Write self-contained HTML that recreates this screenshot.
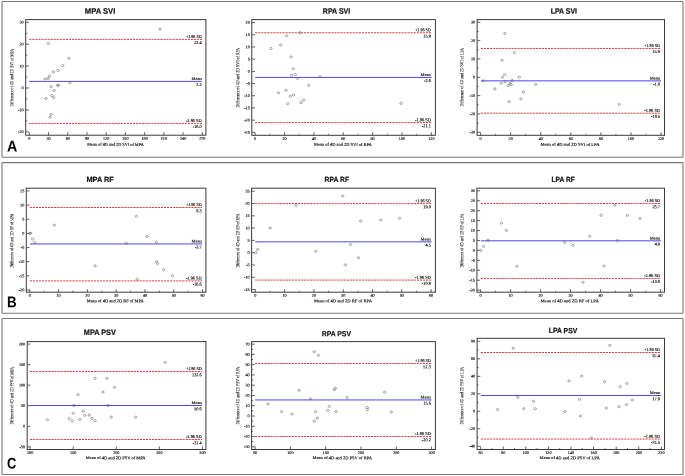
<!DOCTYPE html>
<html><head><meta charset="utf-8"><title>Bland-Altman plots</title>
<style>html,body{margin:0;padding:0;background:#fff;}svg{display:block;will-change:transform;text-rendering:geometricPrecision;}</style>
</head><body>
<svg width="685" height="476" viewBox="0 0 685 476">
<rect x="0" y="0" width="685" height="476" fill="#fff"/>
<rect x="2.0" y="1.5" width="681.0" height="155.8" rx="0.5" fill="none" stroke="#777" stroke-width="1.1"/>
<text transform="translate(7.05,151.6) rotate(0.1) scale(0.92,1)" font-size="15.5" font-family='"Liberation Sans", sans-serif' font-weight="bold" fill="#000">A</text>
<rect x="2.0" y="162.6" width="681.0" height="150.7" rx="0.5" fill="none" stroke="#777" stroke-width="1.1"/>
<text transform="translate(7.01,307.2) rotate(0.1) scale(0.86,1)" font-size="15.5" font-family='"Liberation Sans", sans-serif' font-weight="bold" fill="#000">B</text>
<rect x="2.0" y="318.5" width="681.0" height="156" rx="0.5" fill="none" stroke="#777" stroke-width="1.1"/>
<text transform="translate(7.07,468.5) rotate(0.1) scale(0.83,1)" font-size="15.5" font-family='"Liberation Sans", sans-serif' font-weight="bold" fill="#000">C</text>
<rect x="25.7" y="19.6" width="180.2" height="115.6" fill="none" stroke="#3a3a3a" stroke-width="1.0"/>
<line x1="25.7" y1="131.8" x2="28.9" y2="131.8" stroke="#3a3a3a" stroke-width="0.8"/>
<text transform="translate(23.7,133.1) rotate(0.1)" font-size="4.2" font-family='"Liberation Serif", serif' text-anchor="end" font-weight="normal" fill="#000" stroke="#000" stroke-width="0.12">-20</text>
<line x1="25.7" y1="109.9" x2="28.9" y2="109.9" stroke="#3a3a3a" stroke-width="0.8"/>
<text transform="translate(23.7,111.2) rotate(0.1)" font-size="4.2" font-family='"Liberation Serif", serif' text-anchor="end" font-weight="normal" fill="#000" stroke="#000" stroke-width="0.12">-10</text>
<line x1="25.7" y1="88" x2="28.9" y2="88" stroke="#3a3a3a" stroke-width="0.8"/>
<text transform="translate(23.7,89.3) rotate(0.1)" font-size="4.2" font-family='"Liberation Serif", serif' text-anchor="end" font-weight="normal" fill="#000" stroke="#000" stroke-width="0.12">0</text>
<line x1="25.7" y1="66.1" x2="28.9" y2="66.1" stroke="#3a3a3a" stroke-width="0.8"/>
<text transform="translate(23.7,67.4) rotate(0.1)" font-size="4.2" font-family='"Liberation Serif", serif' text-anchor="end" font-weight="normal" fill="#000" stroke="#000" stroke-width="0.12">10</text>
<line x1="25.7" y1="44.2" x2="28.9" y2="44.2" stroke="#3a3a3a" stroke-width="0.8"/>
<text transform="translate(23.7,45.5) rotate(0.1)" font-size="4.2" font-family='"Liberation Serif", serif' text-anchor="end" font-weight="normal" fill="#000" stroke="#000" stroke-width="0.12">20</text>
<line x1="25.7" y1="22.3" x2="28.9" y2="22.3" stroke="#3a3a3a" stroke-width="0.8"/>
<text transform="translate(23.7,23.6) rotate(0.1)" font-size="4.2" font-family='"Liberation Serif", serif' text-anchor="end" font-weight="normal" fill="#000" stroke="#000" stroke-width="0.12">30</text>
<line x1="25.7" y1="120.85" x2="27.3" y2="120.85" stroke="#3a3a3a" stroke-width="0.7"/>
<line x1="25.7" y1="98.95" x2="27.3" y2="98.95" stroke="#3a3a3a" stroke-width="0.7"/>
<line x1="25.7" y1="77.05" x2="27.3" y2="77.05" stroke="#3a3a3a" stroke-width="0.7"/>
<line x1="25.7" y1="55.15" x2="27.3" y2="55.15" stroke="#3a3a3a" stroke-width="0.7"/>
<line x1="25.7" y1="33.25" x2="27.3" y2="33.25" stroke="#3a3a3a" stroke-width="0.7"/>
<line x1="29.3" y1="135.2" x2="29.3" y2="132.2" stroke="#3a3a3a" stroke-width="0.8"/>
<text transform="translate(29.3,139.8) rotate(0.1)" font-size="4.2" font-family='"Liberation Serif", serif' text-anchor="middle" font-weight="normal" fill="#000" stroke="#000" stroke-width="0.12">0</text>
<line x1="48.52" y1="135.2" x2="48.52" y2="132.2" stroke="#3a3a3a" stroke-width="0.8"/>
<text transform="translate(48.52,139.8) rotate(0.1)" font-size="4.2" font-family='"Liberation Serif", serif' text-anchor="middle" font-weight="normal" fill="#000" stroke="#000" stroke-width="0.12">30</text>
<line x1="67.74" y1="135.2" x2="67.74" y2="132.2" stroke="#3a3a3a" stroke-width="0.8"/>
<text transform="translate(67.74,139.8) rotate(0.1)" font-size="4.2" font-family='"Liberation Serif", serif' text-anchor="middle" font-weight="normal" fill="#000" stroke="#000" stroke-width="0.12">60</text>
<line x1="86.97" y1="135.2" x2="86.97" y2="132.2" stroke="#3a3a3a" stroke-width="0.8"/>
<text transform="translate(86.97,139.8) rotate(0.1)" font-size="4.2" font-family='"Liberation Serif", serif' text-anchor="middle" font-weight="normal" fill="#000" stroke="#000" stroke-width="0.12">90</text>
<line x1="106.19" y1="135.2" x2="106.19" y2="132.2" stroke="#3a3a3a" stroke-width="0.8"/>
<text transform="translate(106.19,139.8) rotate(0.1)" font-size="4.2" font-family='"Liberation Serif", serif' text-anchor="middle" font-weight="normal" fill="#000" stroke="#000" stroke-width="0.12">120</text>
<line x1="125.41" y1="135.2" x2="125.41" y2="132.2" stroke="#3a3a3a" stroke-width="0.8"/>
<text transform="translate(125.41,139.8) rotate(0.1)" font-size="4.2" font-family='"Liberation Serif", serif' text-anchor="middle" font-weight="normal" fill="#000" stroke="#000" stroke-width="0.12">150</text>
<line x1="144.63" y1="135.2" x2="144.63" y2="132.2" stroke="#3a3a3a" stroke-width="0.8"/>
<text transform="translate(144.63,139.8) rotate(0.1)" font-size="4.2" font-family='"Liberation Serif", serif' text-anchor="middle" font-weight="normal" fill="#000" stroke="#000" stroke-width="0.12">180</text>
<line x1="163.86" y1="135.2" x2="163.86" y2="132.2" stroke="#3a3a3a" stroke-width="0.8"/>
<text transform="translate(163.86,139.8) rotate(0.1)" font-size="4.2" font-family='"Liberation Serif", serif' text-anchor="middle" font-weight="normal" fill="#000" stroke="#000" stroke-width="0.12">210</text>
<line x1="183.08" y1="135.2" x2="183.08" y2="132.2" stroke="#3a3a3a" stroke-width="0.8"/>
<text transform="translate(183.08,139.8) rotate(0.1)" font-size="4.2" font-family='"Liberation Serif", serif' text-anchor="middle" font-weight="normal" fill="#000" stroke="#000" stroke-width="0.12">240</text>
<line x1="202.3" y1="135.2" x2="202.3" y2="132.2" stroke="#3a3a3a" stroke-width="0.8"/>
<text transform="translate(202.3,139.8) rotate(0.1)" font-size="4.2" font-family='"Liberation Serif", serif' text-anchor="middle" font-weight="normal" fill="#000" stroke="#000" stroke-width="0.12">270</text>
<line x1="29.3" y1="39.4" x2="202" y2="39.4" stroke="#dc2424" stroke-width="0.9" stroke-dasharray="2.1 0.95"/>
<line x1="29.3" y1="81.4" x2="202" y2="81.4" stroke="#4a4aee" stroke-width="1.0"/>
<line x1="29.3" y1="123.45" x2="202" y2="123.45" stroke="#dc2424" stroke-width="0.9" stroke-dasharray="2.1 0.95"/>
<text transform="translate(201.7,38) rotate(0.1)" font-size="4.3" font-family='"Liberation Serif", serif' text-anchor="end" font-weight="normal" fill="#000" stroke="#000" stroke-width="0.12" textLength="15.8" lengthAdjust="spacingAndGlyphs">+1.96 SD</text>
<text transform="translate(201.7,44.05) rotate(0.1)" font-size="4.3" font-family='"Liberation Serif", serif' text-anchor="end" font-weight="normal" fill="#000" stroke="#000" stroke-width="0.12">22.4</text>
<text transform="translate(201.7,80) rotate(0.1)" font-size="4.3" font-family='"Liberation Serif", serif' text-anchor="end" font-weight="normal" fill="#000" stroke="#000" stroke-width="0.12" textLength="10.2" lengthAdjust="spacingAndGlyphs">Mean</text>
<text transform="translate(201.7,86.05) rotate(0.1)" font-size="4.3" font-family='"Liberation Serif", serif' text-anchor="end" font-weight="normal" fill="#000" stroke="#000" stroke-width="0.12">3.2</text>
<text transform="translate(201.7,122.05) rotate(0.1)" font-size="4.3" font-family='"Liberation Serif", serif' text-anchor="end" font-weight="normal" fill="#000" stroke="#000" stroke-width="0.12" textLength="15.8" lengthAdjust="spacingAndGlyphs">-1.96 SD</text>
<text transform="translate(201.7,128.1) rotate(0.1)" font-size="4.3" font-family='"Liberation Serif", serif' text-anchor="end" font-weight="normal" fill="#000" stroke="#000" stroke-width="0.12">-16.0</text>
<ellipse cx="48.5" cy="43.4" rx="1.25" ry="1.05" fill="none" stroke="#555" stroke-width="0.5"/>
<ellipse cx="68.9" cy="58.3" rx="1.25" ry="1.05" fill="none" stroke="#555" stroke-width="0.5"/>
<ellipse cx="62.7" cy="65.6" rx="1.25" ry="1.05" fill="none" stroke="#555" stroke-width="0.5"/>
<ellipse cx="58.1" cy="70.5" rx="1.25" ry="1.05" fill="none" stroke="#555" stroke-width="0.5"/>
<ellipse cx="53.4" cy="71.8" rx="1.25" ry="1.05" fill="none" stroke="#555" stroke-width="0.5"/>
<ellipse cx="49.4" cy="76.2" rx="1.25" ry="1.05" fill="none" stroke="#555" stroke-width="0.5"/>
<ellipse cx="48" cy="78.5" rx="1.25" ry="1.05" fill="none" stroke="#555" stroke-width="0.5"/>
<ellipse cx="45.2" cy="78.9" rx="1.25" ry="1.05" fill="none" stroke="#555" stroke-width="0.5"/>
<ellipse cx="160" cy="28.9" rx="1.25" ry="1.05" fill="none" stroke="#555" stroke-width="0.5"/>
<ellipse cx="69.8" cy="82.7" rx="1.25" ry="1.05" fill="none" stroke="#555" stroke-width="0.5"/>
<ellipse cx="51.2" cy="86.5" rx="1.25" ry="1.05" fill="none" stroke="#555" stroke-width="0.5"/>
<ellipse cx="57.6" cy="85.3" rx="1.25" ry="1.05" fill="none" stroke="#555" stroke-width="0.5"/>
<ellipse cx="58.5" cy="85.3" rx="1.25" ry="1.05" fill="none" stroke="#555" stroke-width="0.5"/>
<ellipse cx="54.1" cy="90.5" rx="1.25" ry="1.05" fill="none" stroke="#555" stroke-width="0.5"/>
<ellipse cx="51.8" cy="95.5" rx="1.25" ry="1.05" fill="none" stroke="#555" stroke-width="0.5"/>
<ellipse cx="53.7" cy="97.6" rx="1.25" ry="1.05" fill="none" stroke="#555" stroke-width="0.5"/>
<ellipse cx="45.9" cy="98.5" rx="1.25" ry="1.05" fill="none" stroke="#555" stroke-width="0.5"/>
<ellipse cx="51" cy="114.4" rx="1.25" ry="1.05" fill="none" stroke="#555" stroke-width="0.5"/>
<ellipse cx="50" cy="117.2" rx="1.25" ry="1.05" fill="none" stroke="#555" stroke-width="0.5"/>
<text transform="translate(87.3,145.8) rotate(0.1)" font-size="4.3" font-family='"Liberation Serif", serif' text-anchor="start" font-weight="normal" fill="#000" stroke="#000" stroke-width="0.12" textLength="56.4" lengthAdjust="spacingAndGlyphs">Mean of 4D and 2D SVI of MPA</text>
<text transform="translate(13.3,106.4) rotate(-89.9)" x="0" y="0" font-size="4.9" font-family='"Liberation Serif", serif' fill="#000" stroke="#000" stroke-width="0.07" textLength="57.5" lengthAdjust="spacingAndGlyphs">Difference of 4D and 2D SVI of MPA</text>
<text transform="translate(84.79,13.8) rotate(0.1) scale(0.9509,1)" font-size="8.02" font-family='"Liberation Sans", sans-serif' font-weight="bold" fill="#111" stroke="#111" stroke-width="0.2">MPA SVI</text>
<rect x="251.8" y="19.6" width="183.6" height="115.7" fill="none" stroke="#3a3a3a" stroke-width="1.0"/>
<line x1="251.8" y1="132.35" x2="255" y2="132.35" stroke="#3a3a3a" stroke-width="0.8"/>
<text transform="translate(249.8,133.65) rotate(0.1)" font-size="4.2" font-family='"Liberation Serif", serif' text-anchor="end" font-weight="normal" fill="#000" stroke="#000" stroke-width="0.12">-25</text>
<line x1="251.8" y1="120.15" x2="255" y2="120.15" stroke="#3a3a3a" stroke-width="0.8"/>
<text transform="translate(249.8,121.45) rotate(0.1)" font-size="4.2" font-family='"Liberation Serif", serif' text-anchor="end" font-weight="normal" fill="#000" stroke="#000" stroke-width="0.12">-20</text>
<line x1="251.8" y1="107.95" x2="255" y2="107.95" stroke="#3a3a3a" stroke-width="0.8"/>
<text transform="translate(249.8,109.25) rotate(0.1)" font-size="4.2" font-family='"Liberation Serif", serif' text-anchor="end" font-weight="normal" fill="#000" stroke="#000" stroke-width="0.12">-15</text>
<line x1="251.8" y1="95.75" x2="255" y2="95.75" stroke="#3a3a3a" stroke-width="0.8"/>
<text transform="translate(249.8,97.05) rotate(0.1)" font-size="4.2" font-family='"Liberation Serif", serif' text-anchor="end" font-weight="normal" fill="#000" stroke="#000" stroke-width="0.12">-10</text>
<line x1="251.8" y1="83.55" x2="255" y2="83.55" stroke="#3a3a3a" stroke-width="0.8"/>
<text transform="translate(249.8,84.85) rotate(0.1)" font-size="4.2" font-family='"Liberation Serif", serif' text-anchor="end" font-weight="normal" fill="#000" stroke="#000" stroke-width="0.12">-5</text>
<line x1="251.8" y1="71.35" x2="255" y2="71.35" stroke="#3a3a3a" stroke-width="0.8"/>
<text transform="translate(249.8,72.65) rotate(0.1)" font-size="4.2" font-family='"Liberation Serif", serif' text-anchor="end" font-weight="normal" fill="#000" stroke="#000" stroke-width="0.12">0</text>
<line x1="251.8" y1="59.15" x2="255" y2="59.15" stroke="#3a3a3a" stroke-width="0.8"/>
<text transform="translate(249.8,60.45) rotate(0.1)" font-size="4.2" font-family='"Liberation Serif", serif' text-anchor="end" font-weight="normal" fill="#000" stroke="#000" stroke-width="0.12">5</text>
<line x1="251.8" y1="46.95" x2="255" y2="46.95" stroke="#3a3a3a" stroke-width="0.8"/>
<text transform="translate(249.8,48.25) rotate(0.1)" font-size="4.2" font-family='"Liberation Serif", serif' text-anchor="end" font-weight="normal" fill="#000" stroke="#000" stroke-width="0.12">10</text>
<line x1="251.8" y1="34.75" x2="255" y2="34.75" stroke="#3a3a3a" stroke-width="0.8"/>
<text transform="translate(249.8,36.05) rotate(0.1)" font-size="4.2" font-family='"Liberation Serif", serif' text-anchor="end" font-weight="normal" fill="#000" stroke="#000" stroke-width="0.12">15</text>
<line x1="251.8" y1="22.55" x2="255" y2="22.55" stroke="#3a3a3a" stroke-width="0.8"/>
<text transform="translate(249.8,23.85) rotate(0.1)" font-size="4.2" font-family='"Liberation Serif", serif' text-anchor="end" font-weight="normal" fill="#000" stroke="#000" stroke-width="0.12">20</text>
<line x1="255.1" y1="135.3" x2="255.1" y2="132.3" stroke="#3a3a3a" stroke-width="0.8"/>
<text transform="translate(255.1,139.9) rotate(0.1)" font-size="4.2" font-family='"Liberation Serif", serif' text-anchor="middle" font-weight="normal" fill="#000" stroke="#000" stroke-width="0.12">0</text>
<line x1="284.48" y1="135.3" x2="284.48" y2="132.3" stroke="#3a3a3a" stroke-width="0.8"/>
<text transform="translate(284.48,139.9) rotate(0.1)" font-size="4.2" font-family='"Liberation Serif", serif' text-anchor="middle" font-weight="normal" fill="#000" stroke="#000" stroke-width="0.12">20</text>
<line x1="313.86" y1="135.3" x2="313.86" y2="132.3" stroke="#3a3a3a" stroke-width="0.8"/>
<text transform="translate(313.86,139.9) rotate(0.1)" font-size="4.2" font-family='"Liberation Serif", serif' text-anchor="middle" font-weight="normal" fill="#000" stroke="#000" stroke-width="0.12">40</text>
<line x1="343.24" y1="135.3" x2="343.24" y2="132.3" stroke="#3a3a3a" stroke-width="0.8"/>
<text transform="translate(343.24,139.9) rotate(0.1)" font-size="4.2" font-family='"Liberation Serif", serif' text-anchor="middle" font-weight="normal" fill="#000" stroke="#000" stroke-width="0.12">60</text>
<line x1="372.62" y1="135.3" x2="372.62" y2="132.3" stroke="#3a3a3a" stroke-width="0.8"/>
<text transform="translate(372.62,139.9) rotate(0.1)" font-size="4.2" font-family='"Liberation Serif", serif' text-anchor="middle" font-weight="normal" fill="#000" stroke="#000" stroke-width="0.12">80</text>
<line x1="402" y1="135.3" x2="402" y2="132.3" stroke="#3a3a3a" stroke-width="0.8"/>
<text transform="translate(402,139.9) rotate(0.1)" font-size="4.2" font-family='"Liberation Serif", serif' text-anchor="middle" font-weight="normal" fill="#000" stroke="#000" stroke-width="0.12">100</text>
<line x1="431.38" y1="135.3" x2="431.38" y2="132.3" stroke="#3a3a3a" stroke-width="0.8"/>
<text transform="translate(431.38,139.9) rotate(0.1)" font-size="4.2" font-family='"Liberation Serif", serif' text-anchor="middle" font-weight="normal" fill="#000" stroke="#000" stroke-width="0.12">120</text>
<line x1="269.79" y1="135.3" x2="269.79" y2="133.8" stroke="#3a3a3a" stroke-width="0.7"/>
<line x1="299.17" y1="135.3" x2="299.17" y2="133.8" stroke="#3a3a3a" stroke-width="0.7"/>
<line x1="328.55" y1="135.3" x2="328.55" y2="133.8" stroke="#3a3a3a" stroke-width="0.7"/>
<line x1="357.93" y1="135.3" x2="357.93" y2="133.8" stroke="#3a3a3a" stroke-width="0.7"/>
<line x1="387.31" y1="135.3" x2="387.31" y2="133.8" stroke="#3a3a3a" stroke-width="0.7"/>
<line x1="416.69" y1="135.3" x2="416.69" y2="133.8" stroke="#3a3a3a" stroke-width="0.7"/>
<line x1="255.1" y1="32.75" x2="431.5" y2="32.75" stroke="#dc2424" stroke-width="0.9" stroke-dasharray="2.1 0.95"/>
<line x1="255.1" y1="77.45" x2="431.5" y2="77.45" stroke="#4a4aee" stroke-width="1.0"/>
<line x1="255.1" y1="122.6" x2="431.5" y2="122.6" stroke="#dc2424" stroke-width="0.9" stroke-dasharray="2.1 0.95"/>
<text transform="translate(430.8,31.35) rotate(0.1)" font-size="4.3" font-family='"Liberation Serif", serif' text-anchor="end" font-weight="normal" fill="#000" stroke="#000" stroke-width="0.12" textLength="15.8" lengthAdjust="spacingAndGlyphs">+1.96 SD</text>
<text transform="translate(430.8,37.4) rotate(0.1)" font-size="4.3" font-family='"Liberation Serif", serif' text-anchor="end" font-weight="normal" fill="#000" stroke="#000" stroke-width="0.12">15.9</text>
<text transform="translate(430.8,76.05) rotate(0.1)" font-size="4.3" font-family='"Liberation Serif", serif' text-anchor="end" font-weight="normal" fill="#000" stroke="#000" stroke-width="0.12" textLength="10.2" lengthAdjust="spacingAndGlyphs">Mean</text>
<text transform="translate(430.8,82.1) rotate(0.1)" font-size="4.3" font-family='"Liberation Serif", serif' text-anchor="end" font-weight="normal" fill="#000" stroke="#000" stroke-width="0.12">-2.6</text>
<text transform="translate(430.8,121.2) rotate(0.1)" font-size="4.3" font-family='"Liberation Serif", serif' text-anchor="end" font-weight="normal" fill="#000" stroke="#000" stroke-width="0.12" textLength="15.8" lengthAdjust="spacingAndGlyphs">-1.96 SD</text>
<text transform="translate(430.8,127.25) rotate(0.1)" font-size="4.3" font-family='"Liberation Serif", serif' text-anchor="end" font-weight="normal" fill="#000" stroke="#000" stroke-width="0.12">-21.1</text>
<ellipse cx="270.9" cy="48.5" rx="1.25" ry="1.05" fill="none" stroke="#555" stroke-width="0.5"/>
<ellipse cx="280.7" cy="45" rx="1.25" ry="1.05" fill="none" stroke="#555" stroke-width="0.5"/>
<ellipse cx="286.7" cy="35.7" rx="1.25" ry="1.05" fill="none" stroke="#555" stroke-width="0.5"/>
<ellipse cx="300" cy="32.6" rx="1.25" ry="1.05" fill="none" stroke="#555" stroke-width="0.5"/>
<ellipse cx="291.2" cy="56.9" rx="1.25" ry="1.05" fill="none" stroke="#555" stroke-width="0.5"/>
<ellipse cx="293.3" cy="68.8" rx="1.25" ry="1.05" fill="none" stroke="#555" stroke-width="0.5"/>
<ellipse cx="291.6" cy="75.2" rx="1.25" ry="1.05" fill="none" stroke="#555" stroke-width="0.5"/>
<ellipse cx="295.3" cy="74.5" rx="1.25" ry="1.05" fill="none" stroke="#555" stroke-width="0.5"/>
<ellipse cx="297.7" cy="78.4" rx="1.25" ry="1.05" fill="none" stroke="#555" stroke-width="0.5"/>
<ellipse cx="319.8" cy="76.6" rx="1.25" ry="1.05" fill="none" stroke="#555" stroke-width="0.5"/>
<ellipse cx="308.7" cy="85.4" rx="1.25" ry="1.05" fill="none" stroke="#555" stroke-width="0.5"/>
<ellipse cx="278.4" cy="92.8" rx="1.25" ry="1.05" fill="none" stroke="#555" stroke-width="0.5"/>
<ellipse cx="286.1" cy="90.3" rx="1.25" ry="1.05" fill="none" stroke="#555" stroke-width="0.5"/>
<ellipse cx="290.3" cy="96.4" rx="1.25" ry="1.05" fill="none" stroke="#555" stroke-width="0.5"/>
<ellipse cx="293.5" cy="95" rx="1.25" ry="1.05" fill="none" stroke="#555" stroke-width="0.5"/>
<ellipse cx="287.7" cy="103.6" rx="1.25" ry="1.05" fill="none" stroke="#555" stroke-width="0.5"/>
<ellipse cx="301" cy="102.7" rx="1.25" ry="1.05" fill="none" stroke="#555" stroke-width="0.5"/>
<ellipse cx="303.5" cy="100.3" rx="1.25" ry="1.05" fill="none" stroke="#555" stroke-width="0.5"/>
<ellipse cx="401" cy="103.3" rx="1.25" ry="1.05" fill="none" stroke="#555" stroke-width="0.5"/>
<text transform="translate(314,145.8) rotate(0.1)" font-size="4.3" font-family='"Liberation Serif", serif' text-anchor="start" font-weight="normal" fill="#000" stroke="#000" stroke-width="0.12" textLength="57.8" lengthAdjust="spacingAndGlyphs">Mean of 4D and 2D SVI of RPA</text>
<text transform="translate(239.2,107.4) rotate(-89.9)" x="0" y="0" font-size="4.9" font-family='"Liberation Serif", serif' fill="#000" stroke="#000" stroke-width="0.07" textLength="59.5" lengthAdjust="spacingAndGlyphs">Difference of 4D and 2D SVI of RPA</text>
<text transform="translate(322.83,13.8) rotate(0.1) scale(0.8794,1)" font-size="8.02" font-family='"Liberation Sans", sans-serif' font-weight="bold" fill="#111" stroke="#111" stroke-width="0.2">RPA SVI</text>
<rect x="477.1" y="19.6" width="187.4" height="115.7" fill="none" stroke="#3a3a3a" stroke-width="1.0"/>
<line x1="477.1" y1="132.29" x2="480.3" y2="132.29" stroke="#3a3a3a" stroke-width="0.8"/>
<text transform="translate(475.1,133.59) rotate(0.1)" font-size="4.2" font-family='"Liberation Serif", serif' text-anchor="end" font-weight="normal" fill="#000" stroke="#000" stroke-width="0.12">-30</text>
<line x1="477.1" y1="113.96" x2="480.3" y2="113.96" stroke="#3a3a3a" stroke-width="0.8"/>
<text transform="translate(475.1,115.26) rotate(0.1)" font-size="4.2" font-family='"Liberation Serif", serif' text-anchor="end" font-weight="normal" fill="#000" stroke="#000" stroke-width="0.12">-20</text>
<line x1="477.1" y1="95.63" x2="480.3" y2="95.63" stroke="#3a3a3a" stroke-width="0.8"/>
<text transform="translate(475.1,96.93) rotate(0.1)" font-size="4.2" font-family='"Liberation Serif", serif' text-anchor="end" font-weight="normal" fill="#000" stroke="#000" stroke-width="0.12">-10</text>
<line x1="477.1" y1="77.3" x2="480.3" y2="77.3" stroke="#3a3a3a" stroke-width="0.8"/>
<text transform="translate(475.1,78.6) rotate(0.1)" font-size="4.2" font-family='"Liberation Serif", serif' text-anchor="end" font-weight="normal" fill="#000" stroke="#000" stroke-width="0.12">0</text>
<line x1="477.1" y1="58.97" x2="480.3" y2="58.97" stroke="#3a3a3a" stroke-width="0.8"/>
<text transform="translate(475.1,60.27) rotate(0.1)" font-size="4.2" font-family='"Liberation Serif", serif' text-anchor="end" font-weight="normal" fill="#000" stroke="#000" stroke-width="0.12">10</text>
<line x1="477.1" y1="40.64" x2="480.3" y2="40.64" stroke="#3a3a3a" stroke-width="0.8"/>
<text transform="translate(475.1,41.94) rotate(0.1)" font-size="4.2" font-family='"Liberation Serif", serif' text-anchor="end" font-weight="normal" fill="#000" stroke="#000" stroke-width="0.12">20</text>
<line x1="477.1" y1="22.31" x2="480.3" y2="22.31" stroke="#3a3a3a" stroke-width="0.8"/>
<text transform="translate(475.1,23.61) rotate(0.1)" font-size="4.2" font-family='"Liberation Serif", serif' text-anchor="end" font-weight="normal" fill="#000" stroke="#000" stroke-width="0.12">30</text>
<line x1="477.1" y1="123.12" x2="478.7" y2="123.12" stroke="#3a3a3a" stroke-width="0.7"/>
<line x1="477.1" y1="104.8" x2="478.7" y2="104.8" stroke="#3a3a3a" stroke-width="0.7"/>
<line x1="477.1" y1="86.47" x2="478.7" y2="86.47" stroke="#3a3a3a" stroke-width="0.7"/>
<line x1="477.1" y1="68.13" x2="478.7" y2="68.13" stroke="#3a3a3a" stroke-width="0.7"/>
<line x1="477.1" y1="49.8" x2="478.7" y2="49.8" stroke="#3a3a3a" stroke-width="0.7"/>
<line x1="477.1" y1="31.48" x2="478.7" y2="31.48" stroke="#3a3a3a" stroke-width="0.7"/>
<line x1="480.6" y1="135.3" x2="480.6" y2="132.3" stroke="#3a3a3a" stroke-width="0.8"/>
<text transform="translate(480.6,139.9) rotate(0.1)" font-size="4.2" font-family='"Liberation Serif", serif' text-anchor="middle" font-weight="normal" fill="#000" stroke="#000" stroke-width="0.12">0</text>
<line x1="510.67" y1="135.3" x2="510.67" y2="132.3" stroke="#3a3a3a" stroke-width="0.8"/>
<text transform="translate(510.67,139.9) rotate(0.1)" font-size="4.2" font-family='"Liberation Serif", serif' text-anchor="middle" font-weight="normal" fill="#000" stroke="#000" stroke-width="0.12">20</text>
<line x1="540.74" y1="135.3" x2="540.74" y2="132.3" stroke="#3a3a3a" stroke-width="0.8"/>
<text transform="translate(540.74,139.9) rotate(0.1)" font-size="4.2" font-family='"Liberation Serif", serif' text-anchor="middle" font-weight="normal" fill="#000" stroke="#000" stroke-width="0.12">40</text>
<line x1="570.81" y1="135.3" x2="570.81" y2="132.3" stroke="#3a3a3a" stroke-width="0.8"/>
<text transform="translate(570.81,139.9) rotate(0.1)" font-size="4.2" font-family='"Liberation Serif", serif' text-anchor="middle" font-weight="normal" fill="#000" stroke="#000" stroke-width="0.12">60</text>
<line x1="600.88" y1="135.3" x2="600.88" y2="132.3" stroke="#3a3a3a" stroke-width="0.8"/>
<text transform="translate(600.88,139.9) rotate(0.1)" font-size="4.2" font-family='"Liberation Serif", serif' text-anchor="middle" font-weight="normal" fill="#000" stroke="#000" stroke-width="0.12">80</text>
<line x1="630.95" y1="135.3" x2="630.95" y2="132.3" stroke="#3a3a3a" stroke-width="0.8"/>
<text transform="translate(630.95,139.9) rotate(0.1)" font-size="4.2" font-family='"Liberation Serif", serif' text-anchor="middle" font-weight="normal" fill="#000" stroke="#000" stroke-width="0.12">100</text>
<line x1="661.02" y1="135.3" x2="661.02" y2="132.3" stroke="#3a3a3a" stroke-width="0.8"/>
<text transform="translate(661.02,139.9) rotate(0.1)" font-size="4.2" font-family='"Liberation Serif", serif' text-anchor="middle" font-weight="normal" fill="#000" stroke="#000" stroke-width="0.12">120</text>
<line x1="495.64" y1="135.3" x2="495.64" y2="133.8" stroke="#3a3a3a" stroke-width="0.7"/>
<line x1="525.71" y1="135.3" x2="525.71" y2="133.8" stroke="#3a3a3a" stroke-width="0.7"/>
<line x1="555.77" y1="135.3" x2="555.77" y2="133.8" stroke="#3a3a3a" stroke-width="0.7"/>
<line x1="585.85" y1="135.3" x2="585.85" y2="133.8" stroke="#3a3a3a" stroke-width="0.7"/>
<line x1="615.91" y1="135.3" x2="615.91" y2="133.8" stroke="#3a3a3a" stroke-width="0.7"/>
<line x1="645.99" y1="135.3" x2="645.99" y2="133.8" stroke="#3a3a3a" stroke-width="0.7"/>
<line x1="480.9" y1="48.45" x2="661" y2="48.45" stroke="#dc2424" stroke-width="0.9" stroke-dasharray="2.1 0.95"/>
<line x1="480.9" y1="80.85" x2="661" y2="80.85" stroke="#4a4aee" stroke-width="1.0"/>
<line x1="480.9" y1="113.2" x2="661" y2="113.2" stroke="#dc2424" stroke-width="0.9" stroke-dasharray="2.1 0.95"/>
<text transform="translate(660,47.05) rotate(0.1)" font-size="4.3" font-family='"Liberation Serif", serif' text-anchor="end" font-weight="normal" fill="#000" stroke="#000" stroke-width="0.12" textLength="15.8" lengthAdjust="spacingAndGlyphs">+1.96 SD</text>
<text transform="translate(660,53.1) rotate(0.1)" font-size="4.3" font-family='"Liberation Serif", serif' text-anchor="end" font-weight="normal" fill="#000" stroke="#000" stroke-width="0.12">15.9</text>
<text transform="translate(660,79.45) rotate(0.1)" font-size="4.3" font-family='"Liberation Serif", serif' text-anchor="end" font-weight="normal" fill="#000" stroke="#000" stroke-width="0.12" textLength="10.2" lengthAdjust="spacingAndGlyphs">Mean</text>
<text transform="translate(660,85.5) rotate(0.1)" font-size="4.3" font-family='"Liberation Serif", serif' text-anchor="end" font-weight="normal" fill="#000" stroke="#000" stroke-width="0.12">-1.8</text>
<text transform="translate(660,111.8) rotate(0.1)" font-size="4.3" font-family='"Liberation Serif", serif' text-anchor="end" font-weight="normal" fill="#000" stroke="#000" stroke-width="0.12" textLength="15.8" lengthAdjust="spacingAndGlyphs">-1.96 SD</text>
<text transform="translate(660,117.85) rotate(0.1)" font-size="4.3" font-family='"Liberation Serif", serif' text-anchor="end" font-weight="normal" fill="#000" stroke="#000" stroke-width="0.12">-19.5</text>
<ellipse cx="504.9" cy="33.5" rx="1.25" ry="1.05" fill="none" stroke="#555" stroke-width="0.5"/>
<ellipse cx="514.4" cy="52.6" rx="1.25" ry="1.05" fill="none" stroke="#555" stroke-width="0.5"/>
<ellipse cx="502.1" cy="60.3" rx="1.25" ry="1.05" fill="none" stroke="#555" stroke-width="0.5"/>
<ellipse cx="504.6" cy="74.5" rx="1.25" ry="1.05" fill="none" stroke="#555" stroke-width="0.5"/>
<ellipse cx="502.5" cy="77.2" rx="1.25" ry="1.05" fill="none" stroke="#555" stroke-width="0.5"/>
<ellipse cx="519.3" cy="77.2" rx="1.25" ry="1.05" fill="none" stroke="#555" stroke-width="0.5"/>
<ellipse cx="501.1" cy="83.3" rx="1.25" ry="1.05" fill="none" stroke="#555" stroke-width="0.5"/>
<ellipse cx="504.9" cy="81.9" rx="1.25" ry="1.05" fill="none" stroke="#555" stroke-width="0.5"/>
<ellipse cx="512.3" cy="80.5" rx="1.25" ry="1.05" fill="none" stroke="#555" stroke-width="0.5"/>
<ellipse cx="510.2" cy="83.3" rx="1.25" ry="1.05" fill="none" stroke="#555" stroke-width="0.5"/>
<ellipse cx="511.2" cy="84.5" rx="1.25" ry="1.05" fill="none" stroke="#555" stroke-width="0.5"/>
<ellipse cx="508.1" cy="85.4" rx="1.25" ry="1.05" fill="none" stroke="#555" stroke-width="0.5"/>
<ellipse cx="494.8" cy="88.9" rx="1.25" ry="1.05" fill="none" stroke="#555" stroke-width="0.5"/>
<ellipse cx="523.3" cy="91.9" rx="1.25" ry="1.05" fill="none" stroke="#555" stroke-width="0.5"/>
<ellipse cx="520.9" cy="98.7" rx="1.25" ry="1.05" fill="none" stroke="#555" stroke-width="0.5"/>
<ellipse cx="509.1" cy="101.7" rx="1.25" ry="1.05" fill="none" stroke="#555" stroke-width="0.5"/>
<ellipse cx="535.7" cy="84.4" rx="1.25" ry="1.05" fill="none" stroke="#555" stroke-width="0.5"/>
<ellipse cx="483.2" cy="80.7" rx="1.25" ry="1.05" fill="none" stroke="#555" stroke-width="0.5"/>
<ellipse cx="619.3" cy="104.5" rx="1.25" ry="1.05" fill="none" stroke="#555" stroke-width="0.5"/>
<text transform="translate(540.5,145.8) rotate(0.1)" font-size="4.3" font-family='"Liberation Serif", serif' text-anchor="start" font-weight="normal" fill="#000" stroke="#000" stroke-width="0.12" textLength="59" lengthAdjust="spacingAndGlyphs">Mean of 4D and 2D SVI of LPA</text>
<text transform="translate(463.3,106.4) rotate(-89.9)" x="0" y="0" font-size="4.9" font-family='"Liberation Serif", serif' fill="#000" stroke="#000" stroke-width="0.07" textLength="58.5" lengthAdjust="spacingAndGlyphs">Difference of 4D and 2D SVI of LPA</text>
<text transform="translate(550.63,13.8) rotate(0.1) scale(0.8720,1)" font-size="8.02" font-family='"Liberation Sans", sans-serif' font-weight="bold" fill="#111" stroke="#111" stroke-width="0.2">LPA SVI</text>
<rect x="26.3" y="188.2" width="179.6" height="104" fill="none" stroke="#3a3a3a" stroke-width="1.0"/>
<line x1="26.3" y1="290" x2="29.5" y2="290" stroke="#3a3a3a" stroke-width="0.8"/>
<text transform="translate(24.3,291.3) rotate(0.1)" font-size="4.2" font-family='"Liberation Serif", serif' text-anchor="end" font-weight="normal" fill="#000" stroke="#000" stroke-width="0.12">-20</text>
<line x1="26.3" y1="275.85" x2="29.5" y2="275.85" stroke="#3a3a3a" stroke-width="0.8"/>
<text transform="translate(24.3,277.15) rotate(0.1)" font-size="4.2" font-family='"Liberation Serif", serif' text-anchor="end" font-weight="normal" fill="#000" stroke="#000" stroke-width="0.12">-15</text>
<line x1="26.3" y1="261.7" x2="29.5" y2="261.7" stroke="#3a3a3a" stroke-width="0.8"/>
<text transform="translate(24.3,263) rotate(0.1)" font-size="4.2" font-family='"Liberation Serif", serif' text-anchor="end" font-weight="normal" fill="#000" stroke="#000" stroke-width="0.12">-10</text>
<line x1="26.3" y1="247.55" x2="29.5" y2="247.55" stroke="#3a3a3a" stroke-width="0.8"/>
<text transform="translate(24.3,248.85) rotate(0.1)" font-size="4.2" font-family='"Liberation Serif", serif' text-anchor="end" font-weight="normal" fill="#000" stroke="#000" stroke-width="0.12">-5</text>
<line x1="26.3" y1="233.4" x2="29.5" y2="233.4" stroke="#3a3a3a" stroke-width="0.8"/>
<text transform="translate(24.3,234.7) rotate(0.1)" font-size="4.2" font-family='"Liberation Serif", serif' text-anchor="end" font-weight="normal" fill="#000" stroke="#000" stroke-width="0.12">0</text>
<line x1="26.3" y1="219.25" x2="29.5" y2="219.25" stroke="#3a3a3a" stroke-width="0.8"/>
<text transform="translate(24.3,220.55) rotate(0.1)" font-size="4.2" font-family='"Liberation Serif", serif' text-anchor="end" font-weight="normal" fill="#000" stroke="#000" stroke-width="0.12">5</text>
<line x1="26.3" y1="205.1" x2="29.5" y2="205.1" stroke="#3a3a3a" stroke-width="0.8"/>
<text transform="translate(24.3,206.4) rotate(0.1)" font-size="4.2" font-family='"Liberation Serif", serif' text-anchor="end" font-weight="normal" fill="#000" stroke="#000" stroke-width="0.12">10</text>
<line x1="26.3" y1="190.95" x2="29.5" y2="190.95" stroke="#3a3a3a" stroke-width="0.8"/>
<text transform="translate(24.3,192.25) rotate(0.1)" font-size="4.2" font-family='"Liberation Serif", serif' text-anchor="end" font-weight="normal" fill="#000" stroke="#000" stroke-width="0.12">15</text>
<line x1="29.8" y1="292.2" x2="29.8" y2="289.2" stroke="#3a3a3a" stroke-width="0.8"/>
<text transform="translate(29.8,296.8) rotate(0.1)" font-size="4.2" font-family='"Liberation Serif", serif' text-anchor="middle" font-weight="normal" fill="#000" stroke="#000" stroke-width="0.12">0</text>
<line x1="58.6" y1="292.2" x2="58.6" y2="289.2" stroke="#3a3a3a" stroke-width="0.8"/>
<text transform="translate(58.6,296.8) rotate(0.1)" font-size="4.2" font-family='"Liberation Serif", serif' text-anchor="middle" font-weight="normal" fill="#000" stroke="#000" stroke-width="0.12">10</text>
<line x1="87.4" y1="292.2" x2="87.4" y2="289.2" stroke="#3a3a3a" stroke-width="0.8"/>
<text transform="translate(87.4,296.8) rotate(0.1)" font-size="4.2" font-family='"Liberation Serif", serif' text-anchor="middle" font-weight="normal" fill="#000" stroke="#000" stroke-width="0.12">20</text>
<line x1="116.2" y1="292.2" x2="116.2" y2="289.2" stroke="#3a3a3a" stroke-width="0.8"/>
<text transform="translate(116.2,296.8) rotate(0.1)" font-size="4.2" font-family='"Liberation Serif", serif' text-anchor="middle" font-weight="normal" fill="#000" stroke="#000" stroke-width="0.12">30</text>
<line x1="145" y1="292.2" x2="145" y2="289.2" stroke="#3a3a3a" stroke-width="0.8"/>
<text transform="translate(145,296.8) rotate(0.1)" font-size="4.2" font-family='"Liberation Serif", serif' text-anchor="middle" font-weight="normal" fill="#000" stroke="#000" stroke-width="0.12">40</text>
<line x1="173.8" y1="292.2" x2="173.8" y2="289.2" stroke="#3a3a3a" stroke-width="0.8"/>
<text transform="translate(173.8,296.8) rotate(0.1)" font-size="4.2" font-family='"Liberation Serif", serif' text-anchor="middle" font-weight="normal" fill="#000" stroke="#000" stroke-width="0.12">50</text>
<line x1="202.6" y1="292.2" x2="202.6" y2="289.2" stroke="#3a3a3a" stroke-width="0.8"/>
<text transform="translate(202.6,296.8) rotate(0.1)" font-size="4.2" font-family='"Liberation Serif", serif' text-anchor="middle" font-weight="normal" fill="#000" stroke="#000" stroke-width="0.12">60</text>
<line x1="44.2" y1="292.2" x2="44.2" y2="290.7" stroke="#3a3a3a" stroke-width="0.7"/>
<line x1="73" y1="292.2" x2="73" y2="290.7" stroke="#3a3a3a" stroke-width="0.7"/>
<line x1="101.8" y1="292.2" x2="101.8" y2="290.7" stroke="#3a3a3a" stroke-width="0.7"/>
<line x1="130.6" y1="292.2" x2="130.6" y2="290.7" stroke="#3a3a3a" stroke-width="0.7"/>
<line x1="159.4" y1="292.2" x2="159.4" y2="290.7" stroke="#3a3a3a" stroke-width="0.7"/>
<line x1="188.2" y1="292.2" x2="188.2" y2="290.7" stroke="#3a3a3a" stroke-width="0.7"/>
<line x1="29.8" y1="207.5" x2="202" y2="207.5" stroke="#dc2424" stroke-width="0.9" stroke-dasharray="2.1 0.95"/>
<line x1="29.8" y1="243.95" x2="202" y2="243.95" stroke="#4a4aee" stroke-width="1.0"/>
<line x1="29.8" y1="280.9" x2="202" y2="280.9" stroke="#dc2424" stroke-width="0.9" stroke-dasharray="2.1 0.95"/>
<text transform="translate(201.7,206.1) rotate(0.1)" font-size="4.3" font-family='"Liberation Serif", serif' text-anchor="end" font-weight="normal" fill="#000" stroke="#000" stroke-width="0.12" textLength="15.8" lengthAdjust="spacingAndGlyphs">+1.96 SD</text>
<text transform="translate(201.7,212.15) rotate(0.1)" font-size="4.3" font-family='"Liberation Serif", serif' text-anchor="end" font-weight="normal" fill="#000" stroke="#000" stroke-width="0.12">9.3</text>
<text transform="translate(201.7,242.55) rotate(0.1)" font-size="4.3" font-family='"Liberation Serif", serif' text-anchor="end" font-weight="normal" fill="#000" stroke="#000" stroke-width="0.12" textLength="10.2" lengthAdjust="spacingAndGlyphs">Mean</text>
<text transform="translate(201.7,248.6) rotate(0.1)" font-size="4.3" font-family='"Liberation Serif", serif' text-anchor="end" font-weight="normal" fill="#000" stroke="#000" stroke-width="0.12">-3.7</text>
<text transform="translate(201.7,279.5) rotate(0.1)" font-size="4.3" font-family='"Liberation Serif", serif' text-anchor="end" font-weight="normal" fill="#000" stroke="#000" stroke-width="0.12" textLength="15.8" lengthAdjust="spacingAndGlyphs">-1.96 SD</text>
<text transform="translate(201.7,285.55) rotate(0.1)" font-size="4.3" font-family='"Liberation Serif", serif' text-anchor="end" font-weight="normal" fill="#000" stroke="#000" stroke-width="0.12">-16.6</text>
<ellipse cx="54.3" cy="225.2" rx="1.25" ry="1.05" fill="none" stroke="#555" stroke-width="0.5"/>
<ellipse cx="30.1" cy="233.4" rx="1.25" ry="1.05" fill="none" stroke="#555" stroke-width="0.5"/>
<ellipse cx="30.4" cy="233.2" rx="1.25" ry="1.05" fill="none" stroke="#555" stroke-width="0.5"/>
<ellipse cx="32.6" cy="239.1" rx="1.25" ry="1.05" fill="none" stroke="#555" stroke-width="0.5"/>
<ellipse cx="34.7" cy="242.5" rx="1.25" ry="1.05" fill="none" stroke="#555" stroke-width="0.5"/>
<ellipse cx="95.1" cy="265.8" rx="1.25" ry="1.05" fill="none" stroke="#555" stroke-width="0.5"/>
<ellipse cx="136.4" cy="216.4" rx="1.25" ry="1.05" fill="none" stroke="#555" stroke-width="0.5"/>
<ellipse cx="147" cy="236.4" rx="1.25" ry="1.05" fill="none" stroke="#555" stroke-width="0.5"/>
<ellipse cx="126.3" cy="243.3" rx="1.25" ry="1.05" fill="none" stroke="#555" stroke-width="0.5"/>
<ellipse cx="156.4" cy="242.3" rx="1.25" ry="1.05" fill="none" stroke="#555" stroke-width="0.5"/>
<ellipse cx="156.4" cy="261.6" rx="1.25" ry="1.05" fill="none" stroke="#555" stroke-width="0.5"/>
<ellipse cx="157.5" cy="263.6" rx="1.25" ry="1.05" fill="none" stroke="#555" stroke-width="0.5"/>
<ellipse cx="163.6" cy="269.7" rx="1.25" ry="1.05" fill="none" stroke="#555" stroke-width="0.5"/>
<ellipse cx="172.4" cy="275.8" rx="1.25" ry="1.05" fill="none" stroke="#555" stroke-width="0.5"/>
<ellipse cx="137.3" cy="279.3" rx="1.25" ry="1.05" fill="none" stroke="#555" stroke-width="0.5"/>
<text transform="translate(86.7,302.2) rotate(0.1)" font-size="4.3" font-family='"Liberation Serif", serif' text-anchor="start" font-weight="normal" fill="#000" stroke="#000" stroke-width="0.12" textLength="57.1" lengthAdjust="spacingAndGlyphs">Mean of 4D and 2D RF of MPA</text>
<text transform="translate(13.3,267.4) rotate(-89.9)" x="0" y="0" font-size="4.9" font-family='"Liberation Serif", serif' fill="#000" stroke="#000" stroke-width="0.07" textLength="53.8" lengthAdjust="spacingAndGlyphs">Difference of 4D and 2D RF of MPA</text>
<text transform="translate(86.41,182) rotate(0.1) scale(0.9764,1)" font-size="7.56" font-family='"Liberation Sans", sans-serif' font-weight="bold" fill="#111" stroke="#111" stroke-width="0.2">MPA RF</text>
<rect x="251.6" y="188.2" width="183.8" height="104" fill="none" stroke="#3a3a3a" stroke-width="1.0"/>
<line x1="251.6" y1="289.6" x2="254.8" y2="289.6" stroke="#3a3a3a" stroke-width="0.8"/>
<text transform="translate(249.6,290.9) rotate(0.1)" font-size="4.2" font-family='"Liberation Serif", serif' text-anchor="end" font-weight="normal" fill="#000" stroke="#000" stroke-width="0.12">-15</text>
<line x1="251.6" y1="277.3" x2="254.8" y2="277.3" stroke="#3a3a3a" stroke-width="0.8"/>
<text transform="translate(249.6,278.6) rotate(0.1)" font-size="4.2" font-family='"Liberation Serif", serif' text-anchor="end" font-weight="normal" fill="#000" stroke="#000" stroke-width="0.12">-10</text>
<line x1="251.6" y1="265" x2="254.8" y2="265" stroke="#3a3a3a" stroke-width="0.8"/>
<text transform="translate(249.6,266.3) rotate(0.1)" font-size="4.2" font-family='"Liberation Serif", serif' text-anchor="end" font-weight="normal" fill="#000" stroke="#000" stroke-width="0.12">-5</text>
<line x1="251.6" y1="252.7" x2="254.8" y2="252.7" stroke="#3a3a3a" stroke-width="0.8"/>
<text transform="translate(249.6,254) rotate(0.1)" font-size="4.2" font-family='"Liberation Serif", serif' text-anchor="end" font-weight="normal" fill="#000" stroke="#000" stroke-width="0.12">0</text>
<line x1="251.6" y1="240.4" x2="254.8" y2="240.4" stroke="#3a3a3a" stroke-width="0.8"/>
<text transform="translate(249.6,241.7) rotate(0.1)" font-size="4.2" font-family='"Liberation Serif", serif' text-anchor="end" font-weight="normal" fill="#000" stroke="#000" stroke-width="0.12">5</text>
<line x1="251.6" y1="228.1" x2="254.8" y2="228.1" stroke="#3a3a3a" stroke-width="0.8"/>
<text transform="translate(249.6,229.4) rotate(0.1)" font-size="4.2" font-family='"Liberation Serif", serif' text-anchor="end" font-weight="normal" fill="#000" stroke="#000" stroke-width="0.12">10</text>
<line x1="251.6" y1="215.8" x2="254.8" y2="215.8" stroke="#3a3a3a" stroke-width="0.8"/>
<text transform="translate(249.6,217.1) rotate(0.1)" font-size="4.2" font-family='"Liberation Serif", serif' text-anchor="end" font-weight="normal" fill="#000" stroke="#000" stroke-width="0.12">15</text>
<line x1="251.6" y1="203.5" x2="254.8" y2="203.5" stroke="#3a3a3a" stroke-width="0.8"/>
<text transform="translate(249.6,204.8) rotate(0.1)" font-size="4.2" font-family='"Liberation Serif", serif' text-anchor="end" font-weight="normal" fill="#000" stroke="#000" stroke-width="0.12">20</text>
<line x1="251.6" y1="191.2" x2="254.8" y2="191.2" stroke="#3a3a3a" stroke-width="0.8"/>
<text transform="translate(249.6,192.5) rotate(0.1)" font-size="4.2" font-family='"Liberation Serif", serif' text-anchor="end" font-weight="normal" fill="#000" stroke="#000" stroke-width="0.12">25</text>
<line x1="255.3" y1="292.2" x2="255.3" y2="289.2" stroke="#3a3a3a" stroke-width="0.8"/>
<text transform="translate(255.3,296.8) rotate(0.1)" font-size="4.2" font-family='"Liberation Serif", serif' text-anchor="middle" font-weight="normal" fill="#000" stroke="#000" stroke-width="0.12">0</text>
<line x1="284.6" y1="292.2" x2="284.6" y2="289.2" stroke="#3a3a3a" stroke-width="0.8"/>
<text transform="translate(284.6,296.8) rotate(0.1)" font-size="4.2" font-family='"Liberation Serif", serif' text-anchor="middle" font-weight="normal" fill="#000" stroke="#000" stroke-width="0.12">10</text>
<line x1="313.9" y1="292.2" x2="313.9" y2="289.2" stroke="#3a3a3a" stroke-width="0.8"/>
<text transform="translate(313.9,296.8) rotate(0.1)" font-size="4.2" font-family='"Liberation Serif", serif' text-anchor="middle" font-weight="normal" fill="#000" stroke="#000" stroke-width="0.12">20</text>
<line x1="343.2" y1="292.2" x2="343.2" y2="289.2" stroke="#3a3a3a" stroke-width="0.8"/>
<text transform="translate(343.2,296.8) rotate(0.1)" font-size="4.2" font-family='"Liberation Serif", serif' text-anchor="middle" font-weight="normal" fill="#000" stroke="#000" stroke-width="0.12">30</text>
<line x1="372.5" y1="292.2" x2="372.5" y2="289.2" stroke="#3a3a3a" stroke-width="0.8"/>
<text transform="translate(372.5,296.8) rotate(0.1)" font-size="4.2" font-family='"Liberation Serif", serif' text-anchor="middle" font-weight="normal" fill="#000" stroke="#000" stroke-width="0.12">40</text>
<line x1="401.8" y1="292.2" x2="401.8" y2="289.2" stroke="#3a3a3a" stroke-width="0.8"/>
<text transform="translate(401.8,296.8) rotate(0.1)" font-size="4.2" font-family='"Liberation Serif", serif' text-anchor="middle" font-weight="normal" fill="#000" stroke="#000" stroke-width="0.12">50</text>
<line x1="431.1" y1="292.2" x2="431.1" y2="289.2" stroke="#3a3a3a" stroke-width="0.8"/>
<text transform="translate(431.1,296.8) rotate(0.1)" font-size="4.2" font-family='"Liberation Serif", serif' text-anchor="middle" font-weight="normal" fill="#000" stroke="#000" stroke-width="0.12">60</text>
<line x1="269.95" y1="292.2" x2="269.95" y2="290.7" stroke="#3a3a3a" stroke-width="0.7"/>
<line x1="299.25" y1="292.2" x2="299.25" y2="290.7" stroke="#3a3a3a" stroke-width="0.7"/>
<line x1="328.55" y1="292.2" x2="328.55" y2="290.7" stroke="#3a3a3a" stroke-width="0.7"/>
<line x1="357.85" y1="292.2" x2="357.85" y2="290.7" stroke="#3a3a3a" stroke-width="0.7"/>
<line x1="387.15" y1="292.2" x2="387.15" y2="290.7" stroke="#3a3a3a" stroke-width="0.7"/>
<line x1="416.45" y1="292.2" x2="416.45" y2="290.7" stroke="#3a3a3a" stroke-width="0.7"/>
<line x1="255.3" y1="203.6" x2="431.5" y2="203.6" stroke="#dc2424" stroke-width="0.9" stroke-dasharray="2.1 0.95"/>
<line x1="255.3" y1="241.85" x2="431.5" y2="241.85" stroke="#4a4aee" stroke-width="1.0"/>
<line x1="255.3" y1="280.1" x2="431.5" y2="280.1" stroke="#dc2424" stroke-width="0.9" stroke-dasharray="2.1 0.95"/>
<text transform="translate(430.8,202.2) rotate(0.1)" font-size="4.3" font-family='"Liberation Serif", serif' text-anchor="end" font-weight="normal" fill="#000" stroke="#000" stroke-width="0.12" textLength="15.8" lengthAdjust="spacingAndGlyphs">+1.96 SD</text>
<text transform="translate(430.8,208.25) rotate(0.1)" font-size="4.3" font-family='"Liberation Serif", serif' text-anchor="end" font-weight="normal" fill="#000" stroke="#000" stroke-width="0.12">19.9</text>
<text transform="translate(430.8,240.45) rotate(0.1)" font-size="4.3" font-family='"Liberation Serif", serif' text-anchor="end" font-weight="normal" fill="#000" stroke="#000" stroke-width="0.12" textLength="10.2" lengthAdjust="spacingAndGlyphs">Mean</text>
<text transform="translate(430.8,246.5) rotate(0.1)" font-size="4.3" font-family='"Liberation Serif", serif' text-anchor="end" font-weight="normal" fill="#000" stroke="#000" stroke-width="0.12">4.5</text>
<text transform="translate(430.8,278.7) rotate(0.1)" font-size="4.3" font-family='"Liberation Serif", serif' text-anchor="end" font-weight="normal" fill="#000" stroke="#000" stroke-width="0.12" textLength="15.8" lengthAdjust="spacingAndGlyphs">-1.96 SD</text>
<text transform="translate(430.8,284.75) rotate(0.1)" font-size="4.3" font-family='"Liberation Serif", serif' text-anchor="end" font-weight="normal" fill="#000" stroke="#000" stroke-width="0.12">-10.9</text>
<ellipse cx="270.2" cy="228.1" rx="1.25" ry="1.05" fill="none" stroke="#555" stroke-width="0.5"/>
<ellipse cx="296.1" cy="205.5" rx="1.25" ry="1.05" fill="none" stroke="#555" stroke-width="0.5"/>
<ellipse cx="342.7" cy="195.9" rx="1.25" ry="1.05" fill="none" stroke="#555" stroke-width="0.5"/>
<ellipse cx="257.6" cy="249.5" rx="1.25" ry="1.05" fill="none" stroke="#555" stroke-width="0.5"/>
<ellipse cx="255.7" cy="252.7" rx="1.25" ry="1.05" fill="none" stroke="#555" stroke-width="0.5"/>
<ellipse cx="315.8" cy="251.3" rx="1.25" ry="1.05" fill="none" stroke="#555" stroke-width="0.5"/>
<ellipse cx="360.7" cy="221.1" rx="1.25" ry="1.05" fill="none" stroke="#555" stroke-width="0.5"/>
<ellipse cx="380.8" cy="220" rx="1.25" ry="1.05" fill="none" stroke="#555" stroke-width="0.5"/>
<ellipse cx="399.6" cy="218.3" rx="1.25" ry="1.05" fill="none" stroke="#555" stroke-width="0.5"/>
<ellipse cx="350.5" cy="244.5" rx="1.25" ry="1.05" fill="none" stroke="#555" stroke-width="0.5"/>
<ellipse cx="358.4" cy="257.8" rx="1.25" ry="1.05" fill="none" stroke="#555" stroke-width="0.5"/>
<ellipse cx="345.4" cy="264.8" rx="1.25" ry="1.05" fill="none" stroke="#555" stroke-width="0.5"/>
<text transform="translate(314,302.2) rotate(0.1)" font-size="4.3" font-family='"Liberation Serif", serif' text-anchor="start" font-weight="normal" fill="#000" stroke="#000" stroke-width="0.12" textLength="58" lengthAdjust="spacingAndGlyphs">Mean of 4D and 2D RF of RPA</text>
<text transform="translate(239.2,267.4) rotate(-89.9)" x="0" y="0" font-size="4.9" font-family='"Liberation Serif", serif' fill="#000" stroke="#000" stroke-width="0.07" textLength="53.8" lengthAdjust="spacingAndGlyphs">Difference of 4D and 2D RF of RPA</text>
<text transform="translate(324.54,182) rotate(0.1) scale(0.9017,1)" font-size="7.56" font-family='"Liberation Sans", sans-serif' font-weight="bold" fill="#111" stroke="#111" stroke-width="0.2">RPA RF</text>
<rect x="476.9" y="188.2" width="187.6" height="104" fill="none" stroke="#3a3a3a" stroke-width="1.0"/>
<line x1="476.9" y1="290.12" x2="480.1" y2="290.12" stroke="#3a3a3a" stroke-width="0.8"/>
<text transform="translate(474.9,291.42) rotate(0.1)" font-size="4.2" font-family='"Liberation Serif", serif' text-anchor="end" font-weight="normal" fill="#000" stroke="#000" stroke-width="0.12">-20</text>
<line x1="476.9" y1="280.19" x2="480.1" y2="280.19" stroke="#3a3a3a" stroke-width="0.8"/>
<text transform="translate(474.9,281.49) rotate(0.1)" font-size="4.2" font-family='"Liberation Serif", serif' text-anchor="end" font-weight="normal" fill="#000" stroke="#000" stroke-width="0.12">-15</text>
<line x1="476.9" y1="270.26" x2="480.1" y2="270.26" stroke="#3a3a3a" stroke-width="0.8"/>
<text transform="translate(474.9,271.56) rotate(0.1)" font-size="4.2" font-family='"Liberation Serif", serif' text-anchor="end" font-weight="normal" fill="#000" stroke="#000" stroke-width="0.12">-10</text>
<line x1="476.9" y1="260.33" x2="480.1" y2="260.33" stroke="#3a3a3a" stroke-width="0.8"/>
<text transform="translate(474.9,261.63) rotate(0.1)" font-size="4.2" font-family='"Liberation Serif", serif' text-anchor="end" font-weight="normal" fill="#000" stroke="#000" stroke-width="0.12">-5</text>
<line x1="476.9" y1="250.4" x2="480.1" y2="250.4" stroke="#3a3a3a" stroke-width="0.8"/>
<text transform="translate(474.9,251.7) rotate(0.1)" font-size="4.2" font-family='"Liberation Serif", serif' text-anchor="end" font-weight="normal" fill="#000" stroke="#000" stroke-width="0.12">0</text>
<line x1="476.9" y1="240.47" x2="480.1" y2="240.47" stroke="#3a3a3a" stroke-width="0.8"/>
<text transform="translate(474.9,241.77) rotate(0.1)" font-size="4.2" font-family='"Liberation Serif", serif' text-anchor="end" font-weight="normal" fill="#000" stroke="#000" stroke-width="0.12">5</text>
<line x1="476.9" y1="230.54" x2="480.1" y2="230.54" stroke="#3a3a3a" stroke-width="0.8"/>
<text transform="translate(474.9,231.84) rotate(0.1)" font-size="4.2" font-family='"Liberation Serif", serif' text-anchor="end" font-weight="normal" fill="#000" stroke="#000" stroke-width="0.12">10</text>
<line x1="476.9" y1="220.61" x2="480.1" y2="220.61" stroke="#3a3a3a" stroke-width="0.8"/>
<text transform="translate(474.9,221.91) rotate(0.1)" font-size="4.2" font-family='"Liberation Serif", serif' text-anchor="end" font-weight="normal" fill="#000" stroke="#000" stroke-width="0.12">15</text>
<line x1="476.9" y1="210.68" x2="480.1" y2="210.68" stroke="#3a3a3a" stroke-width="0.8"/>
<text transform="translate(474.9,211.98) rotate(0.1)" font-size="4.2" font-family='"Liberation Serif", serif' text-anchor="end" font-weight="normal" fill="#000" stroke="#000" stroke-width="0.12">20</text>
<line x1="476.9" y1="200.75" x2="480.1" y2="200.75" stroke="#3a3a3a" stroke-width="0.8"/>
<text transform="translate(474.9,202.05) rotate(0.1)" font-size="4.2" font-family='"Liberation Serif", serif' text-anchor="end" font-weight="normal" fill="#000" stroke="#000" stroke-width="0.12">25</text>
<line x1="476.9" y1="190.82" x2="480.1" y2="190.82" stroke="#3a3a3a" stroke-width="0.8"/>
<text transform="translate(474.9,192.12) rotate(0.1)" font-size="4.2" font-family='"Liberation Serif", serif' text-anchor="end" font-weight="normal" fill="#000" stroke="#000" stroke-width="0.12">30</text>
<line x1="480.6" y1="292.2" x2="480.6" y2="289.2" stroke="#3a3a3a" stroke-width="0.8"/>
<text transform="translate(480.6,296.8) rotate(0.1)" font-size="4.2" font-family='"Liberation Serif", serif' text-anchor="middle" font-weight="normal" fill="#000" stroke="#000" stroke-width="0.12">0</text>
<line x1="510.6" y1="292.2" x2="510.6" y2="289.2" stroke="#3a3a3a" stroke-width="0.8"/>
<text transform="translate(510.6,296.8) rotate(0.1)" font-size="4.2" font-family='"Liberation Serif", serif' text-anchor="middle" font-weight="normal" fill="#000" stroke="#000" stroke-width="0.12">10</text>
<line x1="540.6" y1="292.2" x2="540.6" y2="289.2" stroke="#3a3a3a" stroke-width="0.8"/>
<text transform="translate(540.6,296.8) rotate(0.1)" font-size="4.2" font-family='"Liberation Serif", serif' text-anchor="middle" font-weight="normal" fill="#000" stroke="#000" stroke-width="0.12">20</text>
<line x1="570.6" y1="292.2" x2="570.6" y2="289.2" stroke="#3a3a3a" stroke-width="0.8"/>
<text transform="translate(570.6,296.8) rotate(0.1)" font-size="4.2" font-family='"Liberation Serif", serif' text-anchor="middle" font-weight="normal" fill="#000" stroke="#000" stroke-width="0.12">30</text>
<line x1="600.6" y1="292.2" x2="600.6" y2="289.2" stroke="#3a3a3a" stroke-width="0.8"/>
<text transform="translate(600.6,296.8) rotate(0.1)" font-size="4.2" font-family='"Liberation Serif", serif' text-anchor="middle" font-weight="normal" fill="#000" stroke="#000" stroke-width="0.12">40</text>
<line x1="630.6" y1="292.2" x2="630.6" y2="289.2" stroke="#3a3a3a" stroke-width="0.8"/>
<text transform="translate(630.6,296.8) rotate(0.1)" font-size="4.2" font-family='"Liberation Serif", serif' text-anchor="middle" font-weight="normal" fill="#000" stroke="#000" stroke-width="0.12">50</text>
<line x1="660.6" y1="292.2" x2="660.6" y2="289.2" stroke="#3a3a3a" stroke-width="0.8"/>
<text transform="translate(660.6,296.8) rotate(0.1)" font-size="4.2" font-family='"Liberation Serif", serif' text-anchor="middle" font-weight="normal" fill="#000" stroke="#000" stroke-width="0.12">60</text>
<line x1="495.6" y1="292.2" x2="495.6" y2="290.7" stroke="#3a3a3a" stroke-width="0.7"/>
<line x1="525.6" y1="292.2" x2="525.6" y2="290.7" stroke="#3a3a3a" stroke-width="0.7"/>
<line x1="555.6" y1="292.2" x2="555.6" y2="290.7" stroke="#3a3a3a" stroke-width="0.7"/>
<line x1="585.6" y1="292.2" x2="585.6" y2="290.7" stroke="#3a3a3a" stroke-width="0.7"/>
<line x1="615.6" y1="292.2" x2="615.6" y2="290.7" stroke="#3a3a3a" stroke-width="0.7"/>
<line x1="645.6" y1="292.2" x2="645.6" y2="290.7" stroke="#3a3a3a" stroke-width="0.7"/>
<line x1="480.9" y1="203.5" x2="661" y2="203.5" stroke="#dc2424" stroke-width="0.9" stroke-dasharray="2.1 0.95"/>
<line x1="480.9" y1="240.8" x2="661" y2="240.8" stroke="#4a4aee" stroke-width="1.0"/>
<line x1="480.9" y1="278.45" x2="661" y2="278.45" stroke="#dc2424" stroke-width="0.9" stroke-dasharray="2.1 0.95"/>
<text transform="translate(660,202.1) rotate(0.1)" font-size="4.3" font-family='"Liberation Serif", serif' text-anchor="end" font-weight="normal" fill="#000" stroke="#000" stroke-width="0.12" textLength="15.8" lengthAdjust="spacingAndGlyphs">+1.96 SD</text>
<text transform="translate(660,208.15) rotate(0.1)" font-size="4.3" font-family='"Liberation Serif", serif' text-anchor="end" font-weight="normal" fill="#000" stroke="#000" stroke-width="0.12">23.7</text>
<text transform="translate(660,239.4) rotate(0.1)" font-size="4.3" font-family='"Liberation Serif", serif' text-anchor="end" font-weight="normal" fill="#000" stroke="#000" stroke-width="0.12" textLength="10.2" lengthAdjust="spacingAndGlyphs">Mean</text>
<text transform="translate(660,245.45) rotate(0.1)" font-size="4.3" font-family='"Liberation Serif", serif' text-anchor="end" font-weight="normal" fill="#000" stroke="#000" stroke-width="0.12">4.9</text>
<text transform="translate(660,277.05) rotate(0.1)" font-size="4.3" font-family='"Liberation Serif", serif' text-anchor="end" font-weight="normal" fill="#000" stroke="#000" stroke-width="0.12" textLength="15.8" lengthAdjust="spacingAndGlyphs">-1.96 SD</text>
<text transform="translate(660,283.1) rotate(0.1)" font-size="4.3" font-family='"Liberation Serif", serif' text-anchor="end" font-weight="normal" fill="#000" stroke="#000" stroke-width="0.12">-13.9</text>
<ellipse cx="501.4" cy="223.1" rx="1.25" ry="1.05" fill="none" stroke="#555" stroke-width="0.5"/>
<ellipse cx="506.3" cy="230.4" rx="1.25" ry="1.05" fill="none" stroke="#555" stroke-width="0.5"/>
<ellipse cx="488" cy="240.4" rx="1.25" ry="1.05" fill="none" stroke="#555" stroke-width="0.5"/>
<ellipse cx="483.5" cy="246.4" rx="1.25" ry="1.05" fill="none" stroke="#555" stroke-width="0.5"/>
<ellipse cx="480.9" cy="250.4" rx="1.25" ry="1.05" fill="none" stroke="#555" stroke-width="0.5"/>
<ellipse cx="516.8" cy="266.3" rx="1.25" ry="1.05" fill="none" stroke="#555" stroke-width="0.5"/>
<ellipse cx="564.6" cy="242.4" rx="1.25" ry="1.05" fill="none" stroke="#555" stroke-width="0.5"/>
<ellipse cx="614.9" cy="205.3" rx="1.25" ry="1.05" fill="none" stroke="#555" stroke-width="0.5"/>
<ellipse cx="601.1" cy="215.3" rx="1.25" ry="1.05" fill="none" stroke="#555" stroke-width="0.5"/>
<ellipse cx="627.4" cy="215.3" rx="1.25" ry="1.05" fill="none" stroke="#555" stroke-width="0.5"/>
<ellipse cx="640" cy="218.4" rx="1.25" ry="1.05" fill="none" stroke="#555" stroke-width="0.5"/>
<ellipse cx="589.7" cy="236.3" rx="1.25" ry="1.05" fill="none" stroke="#555" stroke-width="0.5"/>
<ellipse cx="573" cy="245.4" rx="1.25" ry="1.05" fill="none" stroke="#555" stroke-width="0.5"/>
<ellipse cx="617.5" cy="240.4" rx="1.25" ry="1.05" fill="none" stroke="#555" stroke-width="0.5"/>
<ellipse cx="604.1" cy="266" rx="1.25" ry="1.05" fill="none" stroke="#555" stroke-width="0.5"/>
<ellipse cx="583" cy="282.3" rx="1.25" ry="1.05" fill="none" stroke="#555" stroke-width="0.5"/>
<text transform="translate(540.5,302.2) rotate(0.1)" font-size="4.3" font-family='"Liberation Serif", serif' text-anchor="start" font-weight="normal" fill="#000" stroke="#000" stroke-width="0.12" textLength="58.3" lengthAdjust="spacingAndGlyphs">Mean of 4D and 2D RF of LPA</text>
<text transform="translate(463.3,267.4) rotate(-89.9)" x="0" y="0" font-size="4.9" font-family='"Liberation Serif", serif' fill="#000" stroke="#000" stroke-width="0.07" textLength="53.8" lengthAdjust="spacingAndGlyphs">Difference of 4D and 2D RF of LPA</text>
<text transform="translate(551.55,182) rotate(0.1) scale(0.8805,1)" font-size="7.56" font-family='"Liberation Sans", sans-serif' font-weight="bold" fill="#111" stroke="#111" stroke-width="0.2">LPA RF</text>
<rect x="27.2" y="341.6" width="178.7" height="107.9" fill="none" stroke="#3a3a3a" stroke-width="1.0"/>
<line x1="27.2" y1="446.85" x2="30.4" y2="446.85" stroke="#3a3a3a" stroke-width="0.8"/>
<text transform="translate(25.2,448.15) rotate(0.1)" font-size="4.2" font-family='"Liberation Serif", serif' text-anchor="end" font-weight="normal" fill="#000" stroke="#000" stroke-width="0.12">-50</text>
<line x1="27.2" y1="426.3" x2="30.4" y2="426.3" stroke="#3a3a3a" stroke-width="0.8"/>
<text transform="translate(25.2,427.6) rotate(0.1)" font-size="4.2" font-family='"Liberation Serif", serif' text-anchor="end" font-weight="normal" fill="#000" stroke="#000" stroke-width="0.12">0</text>
<line x1="27.2" y1="405.75" x2="30.4" y2="405.75" stroke="#3a3a3a" stroke-width="0.8"/>
<text transform="translate(25.2,407.05) rotate(0.1)" font-size="4.2" font-family='"Liberation Serif", serif' text-anchor="end" font-weight="normal" fill="#000" stroke="#000" stroke-width="0.12">50</text>
<line x1="27.2" y1="385.2" x2="30.4" y2="385.2" stroke="#3a3a3a" stroke-width="0.8"/>
<text transform="translate(25.2,386.5) rotate(0.1)" font-size="4.2" font-family='"Liberation Serif", serif' text-anchor="end" font-weight="normal" fill="#000" stroke="#000" stroke-width="0.12">100</text>
<line x1="27.2" y1="364.65" x2="30.4" y2="364.65" stroke="#3a3a3a" stroke-width="0.8"/>
<text transform="translate(25.2,365.95) rotate(0.1)" font-size="4.2" font-family='"Liberation Serif", serif' text-anchor="end" font-weight="normal" fill="#000" stroke="#000" stroke-width="0.12">150</text>
<line x1="27.2" y1="344.1" x2="30.4" y2="344.1" stroke="#3a3a3a" stroke-width="0.8"/>
<text transform="translate(25.2,345.4) rotate(0.1)" font-size="4.2" font-family='"Liberation Serif", serif' text-anchor="end" font-weight="normal" fill="#000" stroke="#000" stroke-width="0.12">200</text>
<line x1="30.1" y1="449.5" x2="30.1" y2="446.5" stroke="#3a3a3a" stroke-width="0.8"/>
<text transform="translate(30.1,454.1) rotate(0.1)" font-size="4.2" font-family='"Liberation Serif", serif' text-anchor="middle" font-weight="normal" fill="#000" stroke="#000" stroke-width="0.12">100</text>
<line x1="73.2" y1="449.5" x2="73.2" y2="446.5" stroke="#3a3a3a" stroke-width="0.8"/>
<text transform="translate(73.2,454.1) rotate(0.1)" font-size="4.2" font-family='"Liberation Serif", serif' text-anchor="middle" font-weight="normal" fill="#000" stroke="#000" stroke-width="0.12">150</text>
<line x1="116.3" y1="449.5" x2="116.3" y2="446.5" stroke="#3a3a3a" stroke-width="0.8"/>
<text transform="translate(116.3,454.1) rotate(0.1)" font-size="4.2" font-family='"Liberation Serif", serif' text-anchor="middle" font-weight="normal" fill="#000" stroke="#000" stroke-width="0.12">200</text>
<line x1="159.4" y1="449.5" x2="159.4" y2="446.5" stroke="#3a3a3a" stroke-width="0.8"/>
<text transform="translate(159.4,454.1) rotate(0.1)" font-size="4.2" font-family='"Liberation Serif", serif' text-anchor="middle" font-weight="normal" fill="#000" stroke="#000" stroke-width="0.12">250</text>
<line x1="202.5" y1="449.5" x2="202.5" y2="446.5" stroke="#3a3a3a" stroke-width="0.8"/>
<text transform="translate(202.5,454.1) rotate(0.1)" font-size="4.2" font-family='"Liberation Serif", serif' text-anchor="middle" font-weight="normal" fill="#000" stroke="#000" stroke-width="0.12">300</text>
<line x1="30.1" y1="371.5" x2="202.1" y2="371.5" stroke="#dc2424" stroke-width="0.9" stroke-dasharray="2.1 0.95"/>
<line x1="30.1" y1="405.5" x2="202.1" y2="405.5" stroke="#4a4aee" stroke-width="1.0"/>
<line x1="30.1" y1="439.5" x2="202.1" y2="439.5" stroke="#dc2424" stroke-width="0.9" stroke-dasharray="2.1 0.95"/>
<text transform="translate(201.7,370.1) rotate(0.1)" font-size="4.3" font-family='"Liberation Serif", serif' text-anchor="end" font-weight="normal" fill="#000" stroke="#000" stroke-width="0.12" textLength="15.8" lengthAdjust="spacingAndGlyphs">+1.96 SD</text>
<text transform="translate(201.7,376.15) rotate(0.1)" font-size="4.3" font-family='"Liberation Serif", serif' text-anchor="end" font-weight="normal" fill="#000" stroke="#000" stroke-width="0.12">132.6</text>
<text transform="translate(201.7,404.1) rotate(0.1)" font-size="4.3" font-family='"Liberation Serif", serif' text-anchor="end" font-weight="normal" fill="#000" stroke="#000" stroke-width="0.12" textLength="10.2" lengthAdjust="spacingAndGlyphs">Mean</text>
<text transform="translate(201.7,410.15) rotate(0.1)" font-size="4.3" font-family='"Liberation Serif", serif' text-anchor="end" font-weight="normal" fill="#000" stroke="#000" stroke-width="0.12">50.6</text>
<text transform="translate(201.7,438.1) rotate(0.1)" font-size="4.3" font-family='"Liberation Serif", serif' text-anchor="end" font-weight="normal" fill="#000" stroke="#000" stroke-width="0.12" textLength="15.8" lengthAdjust="spacingAndGlyphs">-1.96 SD</text>
<text transform="translate(201.7,444.15) rotate(0.1)" font-size="4.3" font-family='"Liberation Serif", serif' text-anchor="end" font-weight="normal" fill="#000" stroke="#000" stroke-width="0.12">-31.4</text>
<ellipse cx="95.1" cy="378.4" rx="1.25" ry="1.05" fill="none" stroke="#555" stroke-width="0.5"/>
<ellipse cx="106.9" cy="378.4" rx="1.25" ry="1.05" fill="none" stroke="#555" stroke-width="0.5"/>
<ellipse cx="114.4" cy="387.4" rx="1.25" ry="1.05" fill="none" stroke="#555" stroke-width="0.5"/>
<ellipse cx="103" cy="392.1" rx="1.25" ry="1.05" fill="none" stroke="#555" stroke-width="0.5"/>
<ellipse cx="78" cy="394.7" rx="1.25" ry="1.05" fill="none" stroke="#555" stroke-width="0.5"/>
<ellipse cx="165.2" cy="362.4" rx="1.25" ry="1.05" fill="none" stroke="#555" stroke-width="0.5"/>
<ellipse cx="47.3" cy="419.7" rx="1.25" ry="1.05" fill="none" stroke="#555" stroke-width="0.5"/>
<ellipse cx="69.2" cy="418.6" rx="1.25" ry="1.05" fill="none" stroke="#555" stroke-width="0.5"/>
<ellipse cx="72.4" cy="420.9" rx="1.25" ry="1.05" fill="none" stroke="#555" stroke-width="0.5"/>
<ellipse cx="73.2" cy="413.4" rx="1.25" ry="1.05" fill="none" stroke="#555" stroke-width="0.5"/>
<ellipse cx="73.9" cy="405.5" rx="1.25" ry="1.05" fill="none" stroke="#555" stroke-width="0.5"/>
<ellipse cx="79.9" cy="419.5" rx="1.25" ry="1.05" fill="none" stroke="#555" stroke-width="0.5"/>
<ellipse cx="83" cy="411.3" rx="1.25" ry="1.05" fill="none" stroke="#555" stroke-width="0.5"/>
<ellipse cx="84.8" cy="415.3" rx="1.25" ry="1.05" fill="none" stroke="#555" stroke-width="0.5"/>
<ellipse cx="89.3" cy="415.1" rx="1.25" ry="1.05" fill="none" stroke="#555" stroke-width="0.5"/>
<ellipse cx="92" cy="418.3" rx="1.25" ry="1.05" fill="none" stroke="#555" stroke-width="0.5"/>
<ellipse cx="95.1" cy="420.7" rx="1.25" ry="1.05" fill="none" stroke="#555" stroke-width="0.5"/>
<ellipse cx="108.1" cy="405.5" rx="1.25" ry="1.05" fill="none" stroke="#555" stroke-width="0.5"/>
<ellipse cx="111.2" cy="417.1" rx="1.25" ry="1.05" fill="none" stroke="#555" stroke-width="0.5"/>
<ellipse cx="135.6" cy="417.2" rx="1.25" ry="1.05" fill="none" stroke="#555" stroke-width="0.5"/>
<text transform="translate(85.8,459.1) rotate(0.1)" font-size="4.3" font-family='"Liberation Serif", serif' text-anchor="start" font-weight="normal" fill="#000" stroke="#000" stroke-width="0.12" textLength="59.7" lengthAdjust="spacingAndGlyphs">Mean of 4D and 2D PSV of MPA</text>
<text transform="translate(13.3,424.5) rotate(-89.9)" x="0" y="0" font-size="4.9" font-family='"Liberation Serif", serif' fill="#000" stroke="#000" stroke-width="0.07" textLength="57.5" lengthAdjust="spacingAndGlyphs">Difference of 4D and 2D PSV of MPA</text>
<text transform="translate(83.81,335) rotate(0.1) scale(0.9262,1)" font-size="7.88" font-family='"Liberation Sans", sans-serif' font-weight="bold" fill="#111" stroke="#111" stroke-width="0.2">MPA PSV</text>
<rect x="251.6" y="341.6" width="183.8" height="107.9" fill="none" stroke="#3a3a3a" stroke-width="1.0"/>
<line x1="251.6" y1="446.81" x2="254.8" y2="446.81" stroke="#3a3a3a" stroke-width="0.8"/>
<text transform="translate(249.6,448.11) rotate(0.1)" font-size="4.2" font-family='"Liberation Serif", serif' text-anchor="end" font-weight="normal" fill="#000" stroke="#000" stroke-width="0.12">-30</text>
<line x1="251.6" y1="436.54" x2="254.8" y2="436.54" stroke="#3a3a3a" stroke-width="0.8"/>
<text transform="translate(249.6,437.84) rotate(0.1)" font-size="4.2" font-family='"Liberation Serif", serif' text-anchor="end" font-weight="normal" fill="#000" stroke="#000" stroke-width="0.12">-20</text>
<line x1="251.6" y1="426.27" x2="254.8" y2="426.27" stroke="#3a3a3a" stroke-width="0.8"/>
<text transform="translate(249.6,427.57) rotate(0.1)" font-size="4.2" font-family='"Liberation Serif", serif' text-anchor="end" font-weight="normal" fill="#000" stroke="#000" stroke-width="0.12">-10</text>
<line x1="251.6" y1="416" x2="254.8" y2="416" stroke="#3a3a3a" stroke-width="0.8"/>
<text transform="translate(249.6,417.3) rotate(0.1)" font-size="4.2" font-family='"Liberation Serif", serif' text-anchor="end" font-weight="normal" fill="#000" stroke="#000" stroke-width="0.12">0</text>
<line x1="251.6" y1="405.73" x2="254.8" y2="405.73" stroke="#3a3a3a" stroke-width="0.8"/>
<text transform="translate(249.6,407.03) rotate(0.1)" font-size="4.2" font-family='"Liberation Serif", serif' text-anchor="end" font-weight="normal" fill="#000" stroke="#000" stroke-width="0.12">10</text>
<line x1="251.6" y1="395.46" x2="254.8" y2="395.46" stroke="#3a3a3a" stroke-width="0.8"/>
<text transform="translate(249.6,396.76) rotate(0.1)" font-size="4.2" font-family='"Liberation Serif", serif' text-anchor="end" font-weight="normal" fill="#000" stroke="#000" stroke-width="0.12">20</text>
<line x1="251.6" y1="385.19" x2="254.8" y2="385.19" stroke="#3a3a3a" stroke-width="0.8"/>
<text transform="translate(249.6,386.49) rotate(0.1)" font-size="4.2" font-family='"Liberation Serif", serif' text-anchor="end" font-weight="normal" fill="#000" stroke="#000" stroke-width="0.12">30</text>
<line x1="251.6" y1="374.92" x2="254.8" y2="374.92" stroke="#3a3a3a" stroke-width="0.8"/>
<text transform="translate(249.6,376.22) rotate(0.1)" font-size="4.2" font-family='"Liberation Serif", serif' text-anchor="end" font-weight="normal" fill="#000" stroke="#000" stroke-width="0.12">40</text>
<line x1="251.6" y1="364.65" x2="254.8" y2="364.65" stroke="#3a3a3a" stroke-width="0.8"/>
<text transform="translate(249.6,365.95) rotate(0.1)" font-size="4.2" font-family='"Liberation Serif", serif' text-anchor="end" font-weight="normal" fill="#000" stroke="#000" stroke-width="0.12">50</text>
<line x1="251.6" y1="354.38" x2="254.8" y2="354.38" stroke="#3a3a3a" stroke-width="0.8"/>
<text transform="translate(249.6,355.68) rotate(0.1)" font-size="4.2" font-family='"Liberation Serif", serif' text-anchor="end" font-weight="normal" fill="#000" stroke="#000" stroke-width="0.12">60</text>
<line x1="251.6" y1="344.11" x2="254.8" y2="344.11" stroke="#3a3a3a" stroke-width="0.8"/>
<text transform="translate(249.6,345.41) rotate(0.1)" font-size="4.2" font-family='"Liberation Serif", serif' text-anchor="end" font-weight="normal" fill="#000" stroke="#000" stroke-width="0.12">70</text>
<line x1="251.6" y1="441.68" x2="253.2" y2="441.68" stroke="#3a3a3a" stroke-width="0.7"/>
<line x1="251.6" y1="431.4" x2="253.2" y2="431.4" stroke="#3a3a3a" stroke-width="0.7"/>
<line x1="251.6" y1="421.13" x2="253.2" y2="421.13" stroke="#3a3a3a" stroke-width="0.7"/>
<line x1="251.6" y1="410.87" x2="253.2" y2="410.87" stroke="#3a3a3a" stroke-width="0.7"/>
<line x1="251.6" y1="400.6" x2="253.2" y2="400.6" stroke="#3a3a3a" stroke-width="0.7"/>
<line x1="251.6" y1="390.32" x2="253.2" y2="390.32" stroke="#3a3a3a" stroke-width="0.7"/>
<line x1="251.6" y1="380.06" x2="253.2" y2="380.06" stroke="#3a3a3a" stroke-width="0.7"/>
<line x1="251.6" y1="369.79" x2="253.2" y2="369.79" stroke="#3a3a3a" stroke-width="0.7"/>
<line x1="251.6" y1="359.51" x2="253.2" y2="359.51" stroke="#3a3a3a" stroke-width="0.7"/>
<line x1="251.6" y1="349.25" x2="253.2" y2="349.25" stroke="#3a3a3a" stroke-width="0.7"/>
<line x1="255.1" y1="449.5" x2="255.1" y2="446.5" stroke="#3a3a3a" stroke-width="0.8"/>
<text transform="translate(255.1,454.1) rotate(0.1)" font-size="4.2" font-family='"Liberation Serif", serif' text-anchor="middle" font-weight="normal" fill="#000" stroke="#000" stroke-width="0.12">50</text>
<line x1="290.4" y1="449.5" x2="290.4" y2="446.5" stroke="#3a3a3a" stroke-width="0.8"/>
<text transform="translate(290.4,454.1) rotate(0.1)" font-size="4.2" font-family='"Liberation Serif", serif' text-anchor="middle" font-weight="normal" fill="#000" stroke="#000" stroke-width="0.12">100</text>
<line x1="325.7" y1="449.5" x2="325.7" y2="446.5" stroke="#3a3a3a" stroke-width="0.8"/>
<text transform="translate(325.7,454.1) rotate(0.1)" font-size="4.2" font-family='"Liberation Serif", serif' text-anchor="middle" font-weight="normal" fill="#000" stroke="#000" stroke-width="0.12">150</text>
<line x1="361" y1="449.5" x2="361" y2="446.5" stroke="#3a3a3a" stroke-width="0.8"/>
<text transform="translate(361,454.1) rotate(0.1)" font-size="4.2" font-family='"Liberation Serif", serif' text-anchor="middle" font-weight="normal" fill="#000" stroke="#000" stroke-width="0.12">200</text>
<line x1="396.3" y1="449.5" x2="396.3" y2="446.5" stroke="#3a3a3a" stroke-width="0.8"/>
<text transform="translate(396.3,454.1) rotate(0.1)" font-size="4.2" font-family='"Liberation Serif", serif' text-anchor="middle" font-weight="normal" fill="#000" stroke="#000" stroke-width="0.12">250</text>
<line x1="431.6" y1="449.5" x2="431.6" y2="446.5" stroke="#3a3a3a" stroke-width="0.8"/>
<text transform="translate(431.6,454.1) rotate(0.1)" font-size="4.2" font-family='"Liberation Serif", serif' text-anchor="middle" font-weight="normal" fill="#000" stroke="#000" stroke-width="0.12">300</text>
<line x1="255.1" y1="363.5" x2="431.5" y2="363.5" stroke="#dc2424" stroke-width="0.9" stroke-dasharray="2.1 0.95"/>
<line x1="255.1" y1="399.95" x2="431.5" y2="399.95" stroke="#4a4aee" stroke-width="1.0"/>
<line x1="255.1" y1="436.5" x2="431.5" y2="436.5" stroke="#dc2424" stroke-width="0.9" stroke-dasharray="2.1 0.95"/>
<text transform="translate(430.8,362.1) rotate(0.1)" font-size="4.3" font-family='"Liberation Serif", serif' text-anchor="end" font-weight="normal" fill="#000" stroke="#000" stroke-width="0.12" textLength="15.8" lengthAdjust="spacingAndGlyphs">+1.96 SD</text>
<text transform="translate(430.8,368.15) rotate(0.1)" font-size="4.3" font-family='"Liberation Serif", serif' text-anchor="end" font-weight="normal" fill="#000" stroke="#000" stroke-width="0.12">51.3</text>
<text transform="translate(430.8,398.55) rotate(0.1)" font-size="4.3" font-family='"Liberation Serif", serif' text-anchor="end" font-weight="normal" fill="#000" stroke="#000" stroke-width="0.12" textLength="10.2" lengthAdjust="spacingAndGlyphs">Mean</text>
<text transform="translate(430.8,404.6) rotate(0.1)" font-size="4.3" font-family='"Liberation Serif", serif' text-anchor="end" font-weight="normal" fill="#000" stroke="#000" stroke-width="0.12">15.6</text>
<text transform="translate(430.8,435.1) rotate(0.1)" font-size="4.3" font-family='"Liberation Serif", serif' text-anchor="end" font-weight="normal" fill="#000" stroke="#000" stroke-width="0.12" textLength="15.8" lengthAdjust="spacingAndGlyphs">-1.96 SD</text>
<text transform="translate(430.8,441.15) rotate(0.1)" font-size="4.3" font-family='"Liberation Serif", serif' text-anchor="end" font-weight="normal" fill="#000" stroke="#000" stroke-width="0.12">-20.2</text>
<ellipse cx="314.3" cy="351.8" rx="1.25" ry="1.05" fill="none" stroke="#555" stroke-width="0.5"/>
<ellipse cx="318.4" cy="355.3" rx="1.25" ry="1.05" fill="none" stroke="#555" stroke-width="0.5"/>
<ellipse cx="299.1" cy="390.3" rx="1.25" ry="1.05" fill="none" stroke="#555" stroke-width="0.5"/>
<ellipse cx="334.4" cy="389.6" rx="1.25" ry="1.05" fill="none" stroke="#555" stroke-width="0.5"/>
<ellipse cx="335.3" cy="388.3" rx="1.25" ry="1.05" fill="none" stroke="#555" stroke-width="0.5"/>
<ellipse cx="267.9" cy="403.9" rx="1.25" ry="1.05" fill="none" stroke="#555" stroke-width="0.5"/>
<ellipse cx="281.6" cy="411.6" rx="1.25" ry="1.05" fill="none" stroke="#555" stroke-width="0.5"/>
<ellipse cx="292.1" cy="413.9" rx="1.25" ry="1.05" fill="none" stroke="#555" stroke-width="0.5"/>
<ellipse cx="310.5" cy="398.7" rx="1.25" ry="1.05" fill="none" stroke="#555" stroke-width="0.5"/>
<ellipse cx="315.6" cy="411.6" rx="1.25" ry="1.05" fill="none" stroke="#555" stroke-width="0.5"/>
<ellipse cx="317.3" cy="418" rx="1.25" ry="1.05" fill="none" stroke="#555" stroke-width="0.5"/>
<ellipse cx="314.3" cy="421.3" rx="1.25" ry="1.05" fill="none" stroke="#555" stroke-width="0.5"/>
<ellipse cx="327.8" cy="410.4" rx="1.25" ry="1.05" fill="none" stroke="#555" stroke-width="0.5"/>
<ellipse cx="329.2" cy="406.4" rx="1.25" ry="1.05" fill="none" stroke="#555" stroke-width="0.5"/>
<ellipse cx="335.9" cy="411.6" rx="1.25" ry="1.05" fill="none" stroke="#555" stroke-width="0.5"/>
<ellipse cx="347.2" cy="397.4" rx="1.25" ry="1.05" fill="none" stroke="#555" stroke-width="0.5"/>
<ellipse cx="384.7" cy="392.2" rx="1.25" ry="1.05" fill="none" stroke="#555" stroke-width="0.5"/>
<ellipse cx="367.3" cy="407.5" rx="1.25" ry="1.05" fill="none" stroke="#555" stroke-width="0.5"/>
<ellipse cx="367.3" cy="409.5" rx="1.25" ry="1.05" fill="none" stroke="#555" stroke-width="0.5"/>
<ellipse cx="391.3" cy="412" rx="1.25" ry="1.05" fill="none" stroke="#555" stroke-width="0.5"/>
<text transform="translate(312.6,459.1) rotate(0.1)" font-size="4.3" font-family='"Liberation Serif", serif' text-anchor="start" font-weight="normal" fill="#000" stroke="#000" stroke-width="0.12" textLength="59.4" lengthAdjust="spacingAndGlyphs">Mean of 4D and 2D PSV of RPA</text>
<text transform="translate(239.2,424.5) rotate(-89.9)" x="0" y="0" font-size="4.9" font-family='"Liberation Serif", serif' fill="#000" stroke="#000" stroke-width="0.07" textLength="57.5" lengthAdjust="spacingAndGlyphs">Difference of 4D and 2D PSV of RPA</text>
<text transform="translate(321.74,336.2) rotate(0.1) scale(0.9193,1)" font-size="7.45" font-family='"Liberation Sans", sans-serif' font-weight="bold" fill="#111" stroke="#111" stroke-width="0.2">RPA PSV</text>
<rect x="477.1" y="338.3" width="187.4" height="111.2" fill="none" stroke="#3a3a3a" stroke-width="1.0"/>
<line x1="477.1" y1="446.3" x2="480.3" y2="446.3" stroke="#3a3a3a" stroke-width="0.8"/>
<text transform="translate(475.1,447.6) rotate(0.1)" font-size="4.2" font-family='"Liberation Serif", serif' text-anchor="end" font-weight="normal" fill="#000" stroke="#000" stroke-width="0.12">-40</text>
<line x1="477.1" y1="428.8" x2="480.3" y2="428.8" stroke="#3a3a3a" stroke-width="0.8"/>
<text transform="translate(475.1,430.1) rotate(0.1)" font-size="4.2" font-family='"Liberation Serif", serif' text-anchor="end" font-weight="normal" fill="#000" stroke="#000" stroke-width="0.12">-20</text>
<line x1="477.1" y1="411.3" x2="480.3" y2="411.3" stroke="#3a3a3a" stroke-width="0.8"/>
<text transform="translate(475.1,412.6) rotate(0.1)" font-size="4.2" font-family='"Liberation Serif", serif' text-anchor="end" font-weight="normal" fill="#000" stroke="#000" stroke-width="0.12">0</text>
<line x1="477.1" y1="393.8" x2="480.3" y2="393.8" stroke="#3a3a3a" stroke-width="0.8"/>
<text transform="translate(475.1,395.1) rotate(0.1)" font-size="4.2" font-family='"Liberation Serif", serif' text-anchor="end" font-weight="normal" fill="#000" stroke="#000" stroke-width="0.12">20</text>
<line x1="477.1" y1="376.3" x2="480.3" y2="376.3" stroke="#3a3a3a" stroke-width="0.8"/>
<text transform="translate(475.1,377.6) rotate(0.1)" font-size="4.2" font-family='"Liberation Serif", serif' text-anchor="end" font-weight="normal" fill="#000" stroke="#000" stroke-width="0.12">40</text>
<line x1="477.1" y1="358.8" x2="480.3" y2="358.8" stroke="#3a3a3a" stroke-width="0.8"/>
<text transform="translate(475.1,360.1) rotate(0.1)" font-size="4.2" font-family='"Liberation Serif", serif' text-anchor="end" font-weight="normal" fill="#000" stroke="#000" stroke-width="0.12">60</text>
<line x1="477.1" y1="341.3" x2="480.3" y2="341.3" stroke="#3a3a3a" stroke-width="0.8"/>
<text transform="translate(475.1,342.6) rotate(0.1)" font-size="4.2" font-family='"Liberation Serif", serif' text-anchor="end" font-weight="normal" fill="#000" stroke="#000" stroke-width="0.12">80</text>
<line x1="477.1" y1="437.55" x2="478.7" y2="437.55" stroke="#3a3a3a" stroke-width="0.7"/>
<line x1="477.1" y1="420.05" x2="478.7" y2="420.05" stroke="#3a3a3a" stroke-width="0.7"/>
<line x1="477.1" y1="402.55" x2="478.7" y2="402.55" stroke="#3a3a3a" stroke-width="0.7"/>
<line x1="477.1" y1="385.05" x2="478.7" y2="385.05" stroke="#3a3a3a" stroke-width="0.7"/>
<line x1="477.1" y1="367.55" x2="478.7" y2="367.55" stroke="#3a3a3a" stroke-width="0.7"/>
<line x1="477.1" y1="350.05" x2="478.7" y2="350.05" stroke="#3a3a3a" stroke-width="0.7"/>
<line x1="480.6" y1="449.5" x2="480.6" y2="446.5" stroke="#3a3a3a" stroke-width="0.8"/>
<text transform="translate(480.6,454.1) rotate(0.1)" font-size="4.2" font-family='"Liberation Serif", serif' text-anchor="middle" font-weight="normal" fill="#000" stroke="#000" stroke-width="0.12">60</text>
<line x1="503.2" y1="449.5" x2="503.2" y2="446.5" stroke="#3a3a3a" stroke-width="0.8"/>
<text transform="translate(503.2,454.1) rotate(0.1)" font-size="4.2" font-family='"Liberation Serif", serif' text-anchor="middle" font-weight="normal" fill="#000" stroke="#000" stroke-width="0.12">80</text>
<line x1="525.8" y1="449.5" x2="525.8" y2="446.5" stroke="#3a3a3a" stroke-width="0.8"/>
<text transform="translate(525.8,454.1) rotate(0.1)" font-size="4.2" font-family='"Liberation Serif", serif' text-anchor="middle" font-weight="normal" fill="#000" stroke="#000" stroke-width="0.12">100</text>
<line x1="548.4" y1="449.5" x2="548.4" y2="446.5" stroke="#3a3a3a" stroke-width="0.8"/>
<text transform="translate(548.4,454.1) rotate(0.1)" font-size="4.2" font-family='"Liberation Serif", serif' text-anchor="middle" font-weight="normal" fill="#000" stroke="#000" stroke-width="0.12">120</text>
<line x1="571" y1="449.5" x2="571" y2="446.5" stroke="#3a3a3a" stroke-width="0.8"/>
<text transform="translate(571,454.1) rotate(0.1)" font-size="4.2" font-family='"Liberation Serif", serif' text-anchor="middle" font-weight="normal" fill="#000" stroke="#000" stroke-width="0.12">140</text>
<line x1="593.6" y1="449.5" x2="593.6" y2="446.5" stroke="#3a3a3a" stroke-width="0.8"/>
<text transform="translate(593.6,454.1) rotate(0.1)" font-size="4.2" font-family='"Liberation Serif", serif' text-anchor="middle" font-weight="normal" fill="#000" stroke="#000" stroke-width="0.12">160</text>
<line x1="616.2" y1="449.5" x2="616.2" y2="446.5" stroke="#3a3a3a" stroke-width="0.8"/>
<text transform="translate(616.2,454.1) rotate(0.1)" font-size="4.2" font-family='"Liberation Serif", serif' text-anchor="middle" font-weight="normal" fill="#000" stroke="#000" stroke-width="0.12">180</text>
<line x1="638.8" y1="449.5" x2="638.8" y2="446.5" stroke="#3a3a3a" stroke-width="0.8"/>
<text transform="translate(638.8,454.1) rotate(0.1)" font-size="4.2" font-family='"Liberation Serif", serif' text-anchor="middle" font-weight="normal" fill="#000" stroke="#000" stroke-width="0.12">200</text>
<line x1="661.4" y1="449.5" x2="661.4" y2="446.5" stroke="#3a3a3a" stroke-width="0.8"/>
<text transform="translate(661.4,454.1) rotate(0.1)" font-size="4.2" font-family='"Liberation Serif", serif' text-anchor="middle" font-weight="normal" fill="#000" stroke="#000" stroke-width="0.12">220</text>
<line x1="491.9" y1="449.5" x2="491.9" y2="448" stroke="#3a3a3a" stroke-width="0.7"/>
<line x1="514.5" y1="449.5" x2="514.5" y2="448" stroke="#3a3a3a" stroke-width="0.7"/>
<line x1="537.1" y1="449.5" x2="537.1" y2="448" stroke="#3a3a3a" stroke-width="0.7"/>
<line x1="559.7" y1="449.5" x2="559.7" y2="448" stroke="#3a3a3a" stroke-width="0.7"/>
<line x1="582.3" y1="449.5" x2="582.3" y2="448" stroke="#3a3a3a" stroke-width="0.7"/>
<line x1="604.9" y1="449.5" x2="604.9" y2="448" stroke="#3a3a3a" stroke-width="0.7"/>
<line x1="627.5" y1="449.5" x2="627.5" y2="448" stroke="#3a3a3a" stroke-width="0.7"/>
<line x1="650.1" y1="449.5" x2="650.1" y2="448" stroke="#3a3a3a" stroke-width="0.7"/>
<line x1="480.9" y1="352.5" x2="661" y2="352.5" stroke="#dc2424" stroke-width="0.9" stroke-dasharray="2.1 0.95"/>
<line x1="480.9" y1="395.5" x2="661" y2="395.5" stroke="#4a4aee" stroke-width="1.0"/>
<line x1="480.9" y1="439.05" x2="661" y2="439.05" stroke="#dc2424" stroke-width="0.9" stroke-dasharray="2.1 0.95"/>
<text transform="translate(660,351.1) rotate(0.1)" font-size="4.3" font-family='"Liberation Serif", serif' text-anchor="end" font-weight="normal" fill="#000" stroke="#000" stroke-width="0.12" textLength="15.8" lengthAdjust="spacingAndGlyphs">+1.96 SD</text>
<text transform="translate(660,357.15) rotate(0.1)" font-size="4.3" font-family='"Liberation Serif", serif' text-anchor="end" font-weight="normal" fill="#000" stroke="#000" stroke-width="0.12">67.4</text>
<text transform="translate(660,394.1) rotate(0.1)" font-size="4.3" font-family='"Liberation Serif", serif' text-anchor="end" font-weight="normal" fill="#000" stroke="#000" stroke-width="0.12" textLength="10.2" lengthAdjust="spacingAndGlyphs">Mean</text>
<text transform="translate(660,400.15) rotate(0.1)" font-size="4.3" font-family='"Liberation Serif", serif' text-anchor="end" font-weight="normal" fill="#000" stroke="#000" stroke-width="0.12">17.9</text>
<text transform="translate(660,437.65) rotate(0.1)" font-size="4.3" font-family='"Liberation Serif", serif' text-anchor="end" font-weight="normal" fill="#000" stroke="#000" stroke-width="0.12" textLength="15.8" lengthAdjust="spacingAndGlyphs">-1.96 SD</text>
<text transform="translate(660,443.7) rotate(0.1)" font-size="4.3" font-family='"Liberation Serif", serif' text-anchor="end" font-weight="normal" fill="#000" stroke="#000" stroke-width="0.12">-31.5</text>
<ellipse cx="513.3" cy="348.3" rx="1.25" ry="1.05" fill="none" stroke="#555" stroke-width="0.5"/>
<ellipse cx="497.6" cy="409.5" rx="1.25" ry="1.05" fill="none" stroke="#555" stroke-width="0.5"/>
<ellipse cx="517.7" cy="397.3" rx="1.25" ry="1.05" fill="none" stroke="#555" stroke-width="0.5"/>
<ellipse cx="523.8" cy="408.7" rx="1.25" ry="1.05" fill="none" stroke="#555" stroke-width="0.5"/>
<ellipse cx="533.5" cy="401.3" rx="1.25" ry="1.05" fill="none" stroke="#555" stroke-width="0.5"/>
<ellipse cx="535.2" cy="408.7" rx="1.25" ry="1.05" fill="none" stroke="#555" stroke-width="0.5"/>
<ellipse cx="564.9" cy="411.6" rx="1.25" ry="1.05" fill="none" stroke="#555" stroke-width="0.5"/>
<ellipse cx="609.8" cy="345.4" rx="1.25" ry="1.05" fill="none" stroke="#555" stroke-width="0.5"/>
<ellipse cx="569" cy="380.8" rx="1.25" ry="1.05" fill="none" stroke="#555" stroke-width="0.5"/>
<ellipse cx="581.6" cy="376.1" rx="1.25" ry="1.05" fill="none" stroke="#555" stroke-width="0.5"/>
<ellipse cx="604.6" cy="381.7" rx="1.25" ry="1.05" fill="none" stroke="#555" stroke-width="0.5"/>
<ellipse cx="620.3" cy="386.6" rx="1.25" ry="1.05" fill="none" stroke="#555" stroke-width="0.5"/>
<ellipse cx="626.8" cy="383.4" rx="1.25" ry="1.05" fill="none" stroke="#555" stroke-width="0.5"/>
<ellipse cx="579.5" cy="399.3" rx="1.25" ry="1.05" fill="none" stroke="#555" stroke-width="0.5"/>
<ellipse cx="632.5" cy="400" rx="1.25" ry="1.05" fill="none" stroke="#555" stroke-width="0.5"/>
<ellipse cx="580.4" cy="416" rx="1.25" ry="1.05" fill="none" stroke="#555" stroke-width="0.5"/>
<ellipse cx="606.3" cy="408.1" rx="1.25" ry="1.05" fill="none" stroke="#555" stroke-width="0.5"/>
<ellipse cx="619" cy="406.7" rx="1.25" ry="1.05" fill="none" stroke="#555" stroke-width="0.5"/>
<ellipse cx="626.5" cy="404.6" rx="1.25" ry="1.05" fill="none" stroke="#555" stroke-width="0.5"/>
<ellipse cx="591.3" cy="437.9" rx="1.25" ry="1.05" fill="none" stroke="#555" stroke-width="0.5"/>
<text transform="translate(539.6,459.1) rotate(0.1)" font-size="4.3" font-family='"Liberation Serif", serif' text-anchor="start" font-weight="normal" fill="#000" stroke="#000" stroke-width="0.12" textLength="60.1" lengthAdjust="spacingAndGlyphs">Mean of 4D and 2D PSV of LPA</text>
<text transform="translate(463.3,424.5) rotate(-89.9)" x="0" y="0" font-size="4.9" font-family='"Liberation Serif", serif' fill="#000" stroke="#000" stroke-width="0.07" textLength="57.5" lengthAdjust="spacingAndGlyphs">Difference of 4D and 2D PSV of LPA</text>
<text transform="translate(548.74,333.1) rotate(0.1) scale(0.9039,1)" font-size="7.59" font-family='"Liberation Sans", sans-serif' font-weight="bold" fill="#111" stroke="#111" stroke-width="0.2">LPA PSV</text>
</svg>
</body></html>
